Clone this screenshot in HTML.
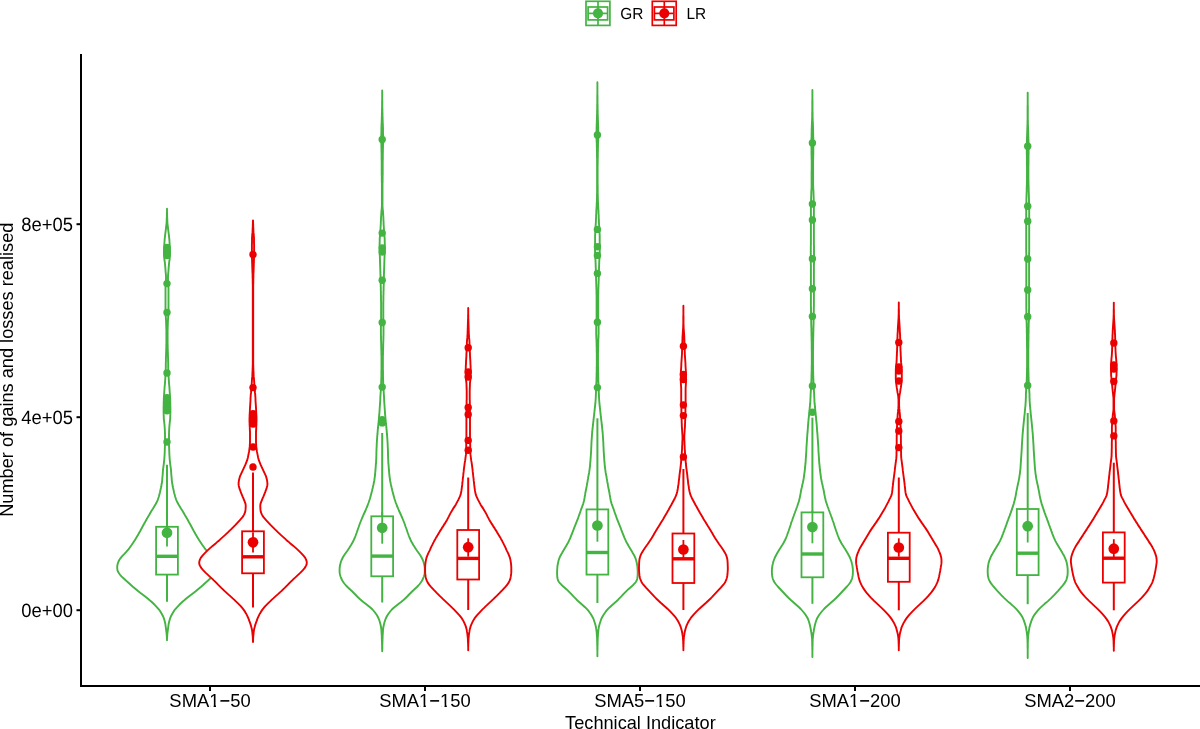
<!DOCTYPE html><html><head><meta charset="utf-8"><style>html,body{margin:0;padding:0;background:#fff;overflow:hidden;}svg{display:block;will-change:transform;}text{font-family:"Liberation Sans",sans-serif;fill:#000;}</style></head><body>
<svg width="1200" height="729" viewBox="0 0 1200 729">
<rect width="1200" height="729" fill="#fff"/>
<path d="M167.0,208.8 167.0,210.3 167.0,211.8 167.1,213.3 167.1,214.8 167.1,216.3 167.2,217.8 167.3,219.3 167.3,220.8 167.4,222.3 167.5,223.8 167.7,225.3 167.9,226.8 168.0,228.3 168.2,229.8 168.4,231.3 168.6,232.8 168.8,234.3 169.0,235.8 169.1,237.3 169.3,238.8 169.4,240.3 169.5,241.8 169.6,243.3 169.7,244.8 169.8,246.3 169.9,247.8 170.0,249.3 170.0,250.8 170.0,252.3 170.0,253.8 169.9,255.3 169.8,256.8 169.7,258.3 169.6,259.8 169.3,261.3 169.1,262.8 169.0,264.3 168.8,265.8 168.7,267.3 168.6,268.8 168.5,270.3 168.4,271.8 168.2,273.3 168.1,274.8 168.0,276.3 168.0,277.8 168.0,279.3 168.1,280.8 168.2,282.3 168.3,283.8 168.4,285.3 168.4,286.8 168.5,288.3 168.5,289.8 168.5,291.3 168.5,292.8 168.5,294.3 168.5,295.8 168.5,297.3 168.5,298.8 168.5,300.3 168.5,301.8 168.5,303.3 168.5,304.8 168.5,306.3 168.5,307.8 168.5,309.3 168.4,310.8 168.4,312.3 168.3,313.8 168.3,315.3 168.2,316.8 168.1,318.3 168.0,319.8 167.9,321.3 167.9,322.8 167.8,324.3 167.8,325.8 167.7,327.3 167.7,328.8 167.6,330.3 167.6,331.8 167.6,333.3 167.6,334.8 167.6,336.3 167.6,337.8 167.6,339.3 167.6,340.8 167.6,342.3 167.6,343.8 167.7,345.3 167.7,346.8 167.7,348.3 167.8,349.8 167.8,351.3 167.9,352.8 167.9,354.3 168.0,355.8 168.0,357.3 168.1,358.8 168.1,360.3 168.1,361.8 168.2,363.3 168.2,364.8 168.2,366.3 168.2,367.8 168.3,369.3 168.3,370.8 168.4,372.3 168.4,373.8 168.5,375.3 168.6,376.8 168.7,378.3 168.8,379.8 168.9,381.3 169.0,382.8 169.1,384.3 169.3,385.8 169.4,387.3 169.5,388.8 169.6,390.3 169.7,391.8 169.8,393.3 169.9,394.8 170.0,396.3 170.1,397.8 170.2,399.3 170.2,400.8 170.3,402.3 170.3,403.8 170.3,405.3 170.4,406.8 170.4,408.3 170.4,409.8 170.4,411.3 170.4,412.8 170.3,414.3 170.3,415.8 170.2,417.3 170.2,418.8 170.0,420.3 169.8,421.8 169.7,423.3 169.5,424.8 169.4,426.3 169.3,427.8 169.2,429.3 169.1,430.8 169.1,432.3 169.0,433.8 169.0,435.3 169.0,436.8 169.0,438.3 169.0,439.8 169.0,441.3 169.0,442.8 169.0,444.3 169.1,445.8 169.1,447.3 169.2,448.8 169.2,450.3 169.3,451.8 169.3,453.3 169.4,454.8 169.5,456.3 169.6,457.8 169.7,459.3 169.9,460.8 170.0,462.3 170.2,463.8 170.4,465.3 170.6,466.8 170.8,468.3 171.0,469.8 171.1,471.3 171.2,472.8 171.3,474.3 171.4,475.8 171.6,477.3 171.7,478.8 171.8,480.3 172.0,481.8 172.2,483.3 172.5,484.8 172.7,486.3 173.0,487.8 173.4,489.3 173.7,490.8 174.0,492.3 174.4,493.8 174.8,495.3 175.2,496.8 175.7,498.3 176.2,499.8 176.9,501.3 177.6,502.8 178.4,504.3 179.3,505.8 180.2,507.3 181.1,508.8 182.1,510.3 183.0,511.8 183.9,513.3 184.7,514.8 185.6,516.3 186.5,517.8 187.4,519.3 188.2,520.8 189.0,522.3 189.9,523.8 190.7,525.3 191.5,526.8 192.3,528.3 193.1,529.8 193.9,531.3 194.8,532.8 195.6,534.3 196.5,535.8 197.4,537.3 198.3,538.8 199.2,540.3 200.2,541.8 201.2,543.3 202.2,544.8 203.3,546.3 204.4,547.8 205.6,549.3 206.9,550.8 208.2,552.3 209.6,553.8 211.1,555.3 212.4,556.8 213.6,558.3 214.6,559.8 215.4,561.3 216.0,562.8 216.4,564.3 216.7,565.8 216.8,567.3 216.7,568.8 216.5,570.3 215.9,571.8 215.0,573.3 213.9,574.8 212.5,576.3 211.0,577.8 209.4,579.3 207.8,580.8 206.1,582.3 204.4,583.8 202.8,585.3 201.1,586.8 199.3,588.3 197.5,589.8 195.7,591.3 193.8,592.8 191.8,594.3 189.8,595.8 187.9,597.3 186.0,598.8 184.3,600.3 182.5,601.8 180.9,603.3 179.3,604.8 177.9,606.3 176.5,607.8 175.2,609.3 174.1,610.8 173.2,612.3 172.3,613.8 171.5,615.3 170.7,616.8 170.1,618.3 169.7,619.8 169.3,621.3 168.9,622.8 168.6,624.3 168.4,625.8 168.2,627.3 168.0,628.8 167.8,630.3 167.6,631.8 167.4,633.3 167.3,634.8 167.2,636.3 167.1,637.8 167.0,639.3 167.0,640.2 167.0,640.2 167.0,639.3 166.9,637.8 166.8,636.3 166.7,634.8 166.6,633.3 166.4,631.8 166.2,630.3 166.0,628.8 165.8,627.3 165.6,625.8 165.4,624.3 165.1,622.8 164.7,621.3 164.3,619.8 163.9,618.3 163.3,616.8 162.5,615.3 161.7,613.8 160.8,612.3 159.9,610.8 158.8,609.3 157.5,607.8 156.1,606.3 154.7,604.8 153.1,603.3 151.5,601.8 149.7,600.3 148.0,598.8 146.1,597.3 144.2,595.8 142.2,594.3 140.2,592.8 138.3,591.3 136.5,589.8 134.7,588.3 132.9,586.8 131.2,585.3 129.6,583.8 127.9,582.3 126.2,580.8 124.6,579.3 123.0,577.8 121.5,576.3 120.1,574.8 119.0,573.3 118.1,571.8 117.5,570.3 117.3,568.8 117.2,567.3 117.3,565.8 117.6,564.3 118.0,562.8 118.6,561.3 119.4,559.8 120.4,558.3 121.6,556.8 122.9,555.3 124.4,553.8 125.8,552.3 127.1,550.8 128.4,549.3 129.6,547.8 130.7,546.3 131.8,544.8 132.8,543.3 133.8,541.8 134.8,540.3 135.7,538.8 136.6,537.3 137.5,535.8 138.4,534.3 139.2,532.8 140.1,531.3 140.9,529.8 141.7,528.3 142.5,526.8 143.3,525.3 144.1,523.8 145.0,522.3 145.8,520.8 146.6,519.3 147.5,517.8 148.4,516.3 149.3,514.8 150.1,513.3 151.0,511.8 151.9,510.3 152.9,508.8 153.8,507.3 154.7,505.8 155.6,504.3 156.4,502.8 157.1,501.3 157.8,499.8 158.3,498.3 158.8,496.8 159.2,495.3 159.6,493.8 160.0,492.3 160.3,490.8 160.6,489.3 161.0,487.8 161.3,486.3 161.5,484.8 161.8,483.3 162.0,481.8 162.2,480.3 162.3,478.8 162.4,477.3 162.6,475.8 162.7,474.3 162.8,472.8 162.9,471.3 163.0,469.8 163.2,468.3 163.4,466.8 163.6,465.3 163.8,463.8 164.0,462.3 164.1,460.8 164.3,459.3 164.4,457.8 164.5,456.3 164.6,454.8 164.7,453.3 164.7,451.8 164.8,450.3 164.8,448.8 164.9,447.3 164.9,445.8 165.0,444.3 165.0,442.8 165.0,441.3 165.0,439.8 165.0,438.3 165.0,436.8 165.0,435.3 165.0,433.8 164.9,432.3 164.9,430.8 164.8,429.3 164.7,427.8 164.6,426.3 164.5,424.8 164.3,423.3 164.2,421.8 164.0,420.3 163.8,418.8 163.8,417.3 163.7,415.8 163.7,414.3 163.6,412.8 163.6,411.3 163.6,409.8 163.6,408.3 163.6,406.8 163.7,405.3 163.7,403.8 163.7,402.3 163.8,400.8 163.8,399.3 163.9,397.8 164.0,396.3 164.1,394.8 164.2,393.3 164.3,391.8 164.4,390.3 164.5,388.8 164.6,387.3 164.7,385.8 164.9,384.3 165.0,382.8 165.1,381.3 165.2,379.8 165.3,378.3 165.4,376.8 165.5,375.3 165.6,373.8 165.6,372.3 165.7,370.8 165.7,369.3 165.8,367.8 165.8,366.3 165.8,364.8 165.8,363.3 165.9,361.8 165.9,360.3 165.9,358.8 166.0,357.3 166.0,355.8 166.1,354.3 166.1,352.8 166.2,351.3 166.2,349.8 166.3,348.3 166.3,346.8 166.3,345.3 166.4,343.8 166.4,342.3 166.4,340.8 166.4,339.3 166.4,337.8 166.4,336.3 166.4,334.8 166.4,333.3 166.4,331.8 166.4,330.3 166.3,328.8 166.3,327.3 166.2,325.8 166.2,324.3 166.1,322.8 166.1,321.3 166.0,319.8 165.9,318.3 165.8,316.8 165.7,315.3 165.7,313.8 165.6,312.3 165.6,310.8 165.5,309.3 165.5,307.8 165.5,306.3 165.5,304.8 165.5,303.3 165.5,301.8 165.5,300.3 165.5,298.8 165.5,297.3 165.5,295.8 165.5,294.3 165.5,292.8 165.5,291.3 165.5,289.8 165.5,288.3 165.6,286.8 165.6,285.3 165.7,283.8 165.8,282.3 165.9,280.8 166.0,279.3 166.0,277.8 166.0,276.3 165.9,274.8 165.8,273.3 165.6,271.8 165.5,270.3 165.4,268.8 165.3,267.3 165.2,265.8 165.0,264.3 164.9,262.8 164.7,261.3 164.4,259.8 164.3,258.3 164.2,256.8 164.1,255.3 164.0,253.8 164.0,252.3 164.0,250.8 164.0,249.3 164.1,247.8 164.2,246.3 164.3,244.8 164.4,243.3 164.5,241.8 164.6,240.3 164.7,238.8 164.9,237.3 165.0,235.8 165.2,234.3 165.4,232.8 165.6,231.3 165.8,229.8 166.0,228.3 166.1,226.8 166.3,225.3 166.5,223.8 166.6,222.3 166.7,220.8 166.7,219.3 166.8,217.8 166.9,216.3 166.9,214.8 166.9,213.3 167.0,211.8 167.0,210.3 167.0,208.8Z" fill="#fff" stroke="#43b341" stroke-width="1.9" stroke-linejoin="round"/>
<path d="M253.0,220.4 253.1,221.9 253.1,223.4 253.2,224.9 253.2,226.4 253.3,227.9 253.4,229.4 253.4,230.9 253.5,232.4 253.7,233.9 253.8,235.4 253.9,236.9 254.0,238.4 254.0,239.9 254.0,241.4 254.0,242.9 254.1,244.4 254.1,245.9 254.1,247.4 254.1,248.9 254.1,250.4 254.1,251.9 254.1,253.4 254.1,254.9 254.1,256.4 254.0,257.9 254.0,259.4 253.9,260.9 253.9,262.4 253.8,263.9 253.8,265.4 253.7,266.9 253.7,268.4 253.6,269.9 253.6,271.4 253.5,272.9 253.4,274.4 253.4,275.9 253.4,277.4 253.3,278.9 253.3,280.4 253.3,281.9 253.3,283.4 253.2,284.9 253.2,286.4 253.2,287.9 253.2,289.4 253.2,290.9 253.2,292.4 253.2,293.9 253.2,295.4 253.2,296.9 253.2,298.4 253.2,299.9 253.2,301.4 253.2,302.9 253.2,304.4 253.2,305.9 253.2,307.4 253.2,308.9 253.2,310.4 253.2,311.9 253.2,313.4 253.2,314.9 253.2,316.4 253.2,317.9 253.2,319.4 253.2,320.9 253.2,322.4 253.2,323.9 253.2,325.4 253.2,326.9 253.2,328.4 253.2,329.9 253.2,331.4 253.2,332.9 253.2,334.4 253.2,335.9 253.2,337.4 253.2,338.9 253.2,340.4 253.2,341.9 253.2,343.4 253.2,344.9 253.2,346.4 253.2,347.9 253.2,349.4 253.2,350.9 253.2,352.4 253.2,353.9 253.2,355.4 253.2,356.9 253.2,358.4 253.2,359.9 253.2,361.4 253.2,362.9 253.2,364.4 253.3,365.9 253.3,367.4 253.4,368.9 253.4,370.4 253.5,371.9 253.6,373.4 253.6,374.9 253.7,376.4 253.9,377.9 254.0,379.4 254.1,380.9 254.2,382.4 254.3,383.9 254.4,385.4 254.5,386.9 254.6,388.4 254.8,389.9 254.9,391.4 255.0,392.9 255.2,394.4 255.3,395.9 255.4,397.4 255.5,398.9 255.5,400.4 255.6,401.9 255.7,403.4 255.8,404.9 255.9,406.4 256.0,407.9 256.1,409.4 256.1,410.9 256.2,412.4 256.3,413.9 256.4,415.4 256.4,416.9 256.5,418.4 256.5,419.9 256.5,421.4 256.4,422.9 256.4,424.4 256.3,425.9 256.2,427.4 256.2,428.9 256.1,430.4 256.0,431.9 256.0,433.4 256.0,434.9 256.0,436.4 256.0,437.9 256.0,439.4 256.0,440.9 256.0,442.4 256.1,443.9 256.2,445.4 256.3,446.9 256.5,448.4 256.7,449.9 256.9,451.4 257.2,452.9 257.5,454.4 257.8,455.9 258.1,457.4 258.5,458.9 258.9,460.4 259.5,461.9 260.1,463.4 260.7,464.9 261.4,466.4 262.1,467.9 262.8,469.4 263.5,470.9 264.2,472.4 264.9,473.9 265.6,475.4 266.2,476.9 266.6,478.4 267.0,479.9 267.2,481.4 267.4,482.9 267.4,484.4 267.2,485.9 266.8,487.4 266.4,488.9 265.8,490.4 265.3,491.9 264.7,493.4 264.1,494.9 263.5,496.4 262.8,497.9 262.2,499.4 261.6,500.9 261.0,502.4 260.5,503.9 260.3,505.4 260.3,506.9 260.4,508.4 260.5,509.9 260.7,511.4 261.2,512.9 261.8,514.4 262.6,515.9 263.7,517.4 265.0,518.9 266.3,520.4 267.7,521.9 269.1,523.4 270.5,524.9 272.0,526.4 273.5,527.9 275.0,529.4 276.6,530.9 278.1,532.4 279.7,533.9 281.3,535.4 283.0,536.9 284.7,538.4 286.3,539.9 288.1,541.4 289.8,542.9 291.6,544.4 293.4,545.9 295.1,547.4 296.8,548.9 298.4,550.4 299.9,551.9 301.4,553.4 302.8,554.9 304.1,556.4 305.2,557.9 306.0,559.4 306.5,560.9 306.8,562.4 306.7,563.9 306.2,565.4 305.4,566.9 304.4,568.4 303.1,569.9 301.7,571.4 300.2,572.9 298.6,574.4 297.0,575.9 295.4,577.4 293.7,578.9 292.2,580.4 290.6,581.9 289.1,583.4 287.7,584.9 286.2,586.4 284.7,587.9 283.1,589.4 281.6,590.9 279.9,592.4 278.3,593.9 276.6,595.4 274.9,596.9 273.3,598.4 271.6,599.9 270.1,601.4 268.5,602.9 267.0,604.4 265.5,605.9 264.2,607.4 263.0,608.9 261.9,610.4 260.9,611.9 260.0,613.4 259.2,614.9 258.5,616.4 257.8,617.9 257.2,619.4 256.7,620.9 256.1,622.4 255.6,623.9 255.1,625.4 254.7,626.9 254.3,628.4 254.0,629.9 253.8,631.4 253.6,632.9 253.5,634.4 253.3,635.9 253.2,637.4 253.1,638.9 253.1,640.4 253.0,641.9 253.0,642.0 253.0,642.0 253.0,641.9 252.9,640.4 252.9,638.9 252.8,637.4 252.7,635.9 252.5,634.4 252.4,632.9 252.2,631.4 252.0,629.9 251.7,628.4 251.3,626.9 250.9,625.4 250.4,623.9 249.9,622.4 249.3,620.9 248.8,619.4 248.2,617.9 247.5,616.4 246.8,614.9 246.0,613.4 245.1,611.9 244.1,610.4 243.0,608.9 241.8,607.4 240.5,605.9 239.0,604.4 237.5,602.9 235.9,601.4 234.4,599.9 232.7,598.4 231.1,596.9 229.4,595.4 227.7,593.9 226.1,592.4 224.4,590.9 222.9,589.4 221.3,587.9 219.8,586.4 218.3,584.9 216.9,583.4 215.4,581.9 213.8,580.4 212.3,578.9 210.6,577.4 209.0,575.9 207.4,574.4 205.8,572.9 204.3,571.4 202.9,569.9 201.6,568.4 200.6,566.9 199.8,565.4 199.3,563.9 199.2,562.4 199.5,560.9 200.0,559.4 200.8,557.9 201.9,556.4 203.2,554.9 204.6,553.4 206.1,551.9 207.6,550.4 209.2,548.9 210.9,547.4 212.6,545.9 214.4,544.4 216.2,542.9 217.9,541.4 219.7,539.9 221.3,538.4 223.0,536.9 224.7,535.4 226.3,533.9 227.9,532.4 229.4,530.9 231.0,529.4 232.5,527.9 234.0,526.4 235.5,524.9 236.9,523.4 238.3,521.9 239.7,520.4 241.0,518.9 242.3,517.4 243.4,515.9 244.2,514.4 244.8,512.9 245.3,511.4 245.5,509.9 245.6,508.4 245.7,506.9 245.7,505.4 245.5,503.9 245.0,502.4 244.4,500.9 243.8,499.4 243.2,497.9 242.5,496.4 241.9,494.9 241.3,493.4 240.7,491.9 240.2,490.4 239.6,488.9 239.2,487.4 238.8,485.9 238.6,484.4 238.6,482.9 238.8,481.4 239.0,479.9 239.4,478.4 239.8,476.9 240.4,475.4 241.1,473.9 241.8,472.4 242.5,470.9 243.2,469.4 243.9,467.9 244.6,466.4 245.3,464.9 245.9,463.4 246.5,461.9 247.1,460.4 247.5,458.9 247.9,457.4 248.2,455.9 248.5,454.4 248.8,452.9 249.1,451.4 249.3,449.9 249.5,448.4 249.7,446.9 249.8,445.4 249.9,443.9 250.0,442.4 250.0,440.9 250.0,439.4 250.0,437.9 250.0,436.4 250.0,434.9 250.0,433.4 250.0,431.9 249.9,430.4 249.8,428.9 249.8,427.4 249.7,425.9 249.6,424.4 249.6,422.9 249.5,421.4 249.5,419.9 249.5,418.4 249.6,416.9 249.6,415.4 249.7,413.9 249.8,412.4 249.9,410.9 249.9,409.4 250.0,407.9 250.1,406.4 250.2,404.9 250.3,403.4 250.4,401.9 250.5,400.4 250.5,398.9 250.6,397.4 250.7,395.9 250.8,394.4 251.0,392.9 251.1,391.4 251.2,389.9 251.4,388.4 251.5,386.9 251.6,385.4 251.7,383.9 251.8,382.4 251.9,380.9 252.0,379.4 252.1,377.9 252.3,376.4 252.4,374.9 252.4,373.4 252.5,371.9 252.6,370.4 252.6,368.9 252.7,367.4 252.7,365.9 252.8,364.4 252.8,362.9 252.8,361.4 252.8,359.9 252.8,358.4 252.8,356.9 252.8,355.4 252.8,353.9 252.8,352.4 252.8,350.9 252.8,349.4 252.8,347.9 252.8,346.4 252.8,344.9 252.8,343.4 252.8,341.9 252.8,340.4 252.8,338.9 252.8,337.4 252.8,335.9 252.8,334.4 252.8,332.9 252.8,331.4 252.8,329.9 252.8,328.4 252.8,326.9 252.8,325.4 252.8,323.9 252.8,322.4 252.8,320.9 252.8,319.4 252.8,317.9 252.8,316.4 252.8,314.9 252.8,313.4 252.8,311.9 252.8,310.4 252.8,308.9 252.8,307.4 252.8,305.9 252.8,304.4 252.8,302.9 252.8,301.4 252.8,299.9 252.8,298.4 252.8,296.9 252.8,295.4 252.8,293.9 252.8,292.4 252.8,290.9 252.8,289.4 252.8,287.9 252.8,286.4 252.8,284.9 252.7,283.4 252.7,281.9 252.7,280.4 252.7,278.9 252.6,277.4 252.6,275.9 252.6,274.4 252.5,272.9 252.4,271.4 252.4,269.9 252.3,268.4 252.3,266.9 252.2,265.4 252.2,263.9 252.1,262.4 252.1,260.9 252.0,259.4 252.0,257.9 251.9,256.4 251.9,254.9 251.9,253.4 251.9,251.9 251.9,250.4 251.9,248.9 251.9,247.4 251.9,245.9 251.9,244.4 252.0,242.9 252.0,241.4 252.0,239.9 252.0,238.4 252.1,236.9 252.2,235.4 252.3,233.9 252.5,232.4 252.6,230.9 252.6,229.4 252.7,227.9 252.8,226.4 252.8,224.9 252.9,223.4 252.9,221.9 253.0,220.4Z" fill="#fff" stroke="#ea0000" stroke-width="1.9" stroke-linejoin="round"/>
<path d="M382.2,90.5 382.2,92.0 382.2,93.5 382.2,95.0 382.2,96.5 382.2,98.0 382.2,99.5 382.3,101.0 382.3,102.5 382.3,104.0 382.3,105.5 382.3,107.0 382.4,108.5 382.4,110.0 382.4,111.5 382.5,113.0 382.5,114.5 382.5,116.0 382.6,117.5 382.6,119.0 382.7,120.5 382.7,122.0 382.8,123.5 382.9,125.0 382.9,126.5 383.0,128.0 383.0,129.5 383.0,131.0 383.0,132.5 383.1,134.0 383.1,135.5 383.1,137.0 383.1,138.5 383.1,140.0 383.1,141.5 383.1,143.0 383.0,144.5 383.0,146.0 383.0,147.5 382.9,149.0 382.9,150.5 382.9,152.0 382.8,153.5 382.8,155.0 382.8,156.5 382.8,158.0 382.8,159.5 382.7,161.0 382.7,162.5 382.7,164.0 382.7,165.5 382.7,167.0 382.7,168.5 382.7,170.0 382.7,171.5 382.7,173.0 382.7,174.5 382.6,176.0 382.6,177.5 382.6,179.0 382.6,180.5 382.6,182.0 382.5,183.5 382.5,185.0 382.5,186.5 382.5,188.0 382.5,189.5 382.5,191.0 382.5,192.5 382.5,194.0 382.5,195.5 382.5,197.0 382.5,198.5 382.5,200.0 382.5,201.5 382.5,203.0 382.5,204.5 382.5,206.0 382.6,207.5 382.7,209.0 382.8,210.5 383.0,212.0 383.1,213.5 383.2,215.0 383.3,216.5 383.4,218.0 383.4,219.5 383.5,221.0 383.6,222.5 383.6,224.0 383.7,225.5 383.8,227.0 383.9,228.5 384.0,230.0 384.1,231.5 384.2,233.0 384.3,234.5 384.4,236.0 384.6,237.5 384.7,239.0 384.7,240.5 384.7,242.0 384.8,243.5 384.8,245.0 384.8,246.5 384.8,248.0 384.8,249.5 384.8,251.0 384.7,252.5 384.7,254.0 384.6,255.5 384.5,257.0 384.5,258.5 384.4,260.0 384.4,261.5 384.3,263.0 384.3,264.5 384.2,266.0 384.2,267.5 384.1,269.0 384.1,270.5 384.0,272.0 384.0,273.5 383.9,275.0 383.9,276.5 383.9,278.0 383.8,279.5 383.8,281.0 383.7,282.5 383.7,284.0 383.7,285.5 383.6,287.0 383.6,288.5 383.6,290.0 383.5,291.5 383.5,293.0 383.5,294.5 383.4,296.0 383.4,297.5 383.4,299.0 383.4,300.5 383.3,302.0 383.3,303.5 383.3,305.0 383.3,306.5 383.3,308.0 383.3,309.5 383.3,311.0 383.3,312.5 383.3,314.0 383.3,315.5 383.3,317.0 383.3,318.5 383.3,320.0 383.4,321.5 383.4,323.0 383.5,324.5 383.5,326.0 383.5,327.5 383.5,329.0 383.5,330.5 383.5,332.0 383.5,333.5 383.5,335.0 383.4,336.5 383.4,338.0 383.4,339.5 383.3,341.0 383.3,342.5 383.2,344.0 383.2,345.5 383.2,347.0 383.1,348.5 383.1,350.0 383.0,351.5 383.0,353.0 383.0,354.5 382.9,356.0 382.9,357.5 382.9,359.0 382.9,360.5 382.9,362.0 382.9,363.5 382.9,365.0 382.9,366.5 382.9,368.0 382.9,369.5 383.0,371.0 383.0,372.5 383.0,374.0 383.0,375.5 383.0,377.0 383.1,378.5 383.1,380.0 383.2,381.5 383.2,383.0 383.3,384.5 383.4,386.0 383.4,387.5 383.5,389.0 383.6,390.5 383.7,392.0 383.8,393.5 383.9,395.0 384.0,396.5 384.1,398.0 384.1,399.5 384.2,401.0 384.3,402.5 384.4,404.0 384.5,405.5 384.6,407.0 384.7,408.5 384.8,410.0 384.9,411.5 385.0,413.0 385.1,414.5 385.3,416.0 385.4,417.5 385.5,419.0 385.6,420.5 385.8,422.0 385.9,423.5 386.1,425.0 386.3,426.5 386.4,428.0 386.6,429.5 386.7,431.0 386.8,432.5 386.9,434.0 387.1,435.5 387.2,437.0 387.3,438.5 387.4,440.0 387.5,441.5 387.6,443.0 387.7,444.5 387.7,446.0 387.8,447.5 387.9,449.0 387.9,450.5 388.0,452.0 388.0,453.5 388.0,455.0 388.1,456.5 388.1,458.0 388.2,459.5 388.3,461.0 388.3,462.5 388.5,464.0 388.6,465.5 388.7,467.0 388.8,468.5 388.9,470.0 389.1,471.5 389.2,473.0 389.3,474.5 389.5,476.0 389.7,477.5 389.9,479.0 390.1,480.5 390.4,482.0 390.7,483.5 391.0,485.0 391.4,486.5 391.7,488.0 392.1,489.5 392.4,491.0 392.8,492.5 393.2,494.0 393.6,495.5 394.0,497.0 394.4,498.5 394.9,500.0 395.4,501.5 395.9,503.0 396.5,504.5 397.0,506.0 397.7,507.5 398.3,509.0 398.9,510.5 399.6,512.0 400.3,513.5 401.0,515.0 401.6,516.5 402.3,518.0 402.9,519.5 403.5,521.0 404.1,522.5 404.7,524.0 405.2,525.5 405.7,527.0 406.3,528.5 406.8,530.0 407.3,531.5 407.8,533.0 408.4,534.5 408.9,536.0 409.5,537.5 410.2,539.0 410.8,540.5 411.6,542.0 412.5,543.5 413.3,545.0 414.3,546.5 415.2,548.0 416.2,549.5 417.2,551.0 418.3,552.5 419.4,554.0 420.4,555.5 421.3,557.0 422.1,558.5 422.8,560.0 423.4,561.5 423.8,563.0 424.2,564.5 424.5,566.0 424.7,567.5 424.8,569.0 424.8,570.5 424.8,572.0 424.6,573.5 424.3,575.0 423.9,576.5 423.3,578.0 422.6,579.5 421.8,581.0 420.8,582.5 419.7,584.0 418.4,585.5 416.9,587.0 415.3,588.5 413.7,590.0 412.1,591.5 410.6,593.0 409.1,594.5 407.7,596.0 406.2,597.5 404.6,599.0 402.9,600.5 401.1,602.0 399.1,603.5 397.2,605.0 395.3,606.5 393.5,608.0 391.9,609.5 390.6,611.0 389.4,612.5 388.3,614.0 387.3,615.5 386.5,617.0 385.8,618.5 385.2,620.0 384.7,621.5 384.3,623.0 383.9,624.5 383.6,626.0 383.3,627.5 383.1,629.0 383.0,630.5 382.9,632.0 382.8,633.5 382.7,635.0 382.6,636.5 382.6,638.0 382.5,639.5 382.5,641.0 382.4,642.5 382.4,644.0 382.3,645.5 382.3,647.0 382.3,648.5 382.2,650.0 382.2,651.3 382.2,651.3 382.2,650.0 382.1,648.5 382.1,647.0 382.1,645.5 382.0,644.0 382.0,642.5 381.9,641.0 381.9,639.5 381.8,638.0 381.8,636.5 381.7,635.0 381.6,633.5 381.5,632.0 381.4,630.5 381.3,629.0 381.1,627.5 380.8,626.0 380.5,624.5 380.1,623.0 379.7,621.5 379.2,620.0 378.6,618.5 377.9,617.0 377.1,615.5 376.1,614.0 375.0,612.5 373.8,611.0 372.5,609.5 370.9,608.0 369.1,606.5 367.2,605.0 365.3,603.5 363.3,602.0 361.5,600.5 359.8,599.0 358.2,597.5 356.7,596.0 355.3,594.5 353.8,593.0 352.3,591.5 350.7,590.0 349.1,588.5 347.5,587.0 346.0,585.5 344.7,584.0 343.6,582.5 342.6,581.0 341.8,579.5 341.1,578.0 340.5,576.5 340.1,575.0 339.8,573.5 339.6,572.0 339.6,570.5 339.6,569.0 339.7,567.5 339.9,566.0 340.2,564.5 340.6,563.0 341.0,561.5 341.6,560.0 342.3,558.5 343.1,557.0 344.0,555.5 345.0,554.0 346.1,552.5 347.2,551.0 348.2,549.5 349.2,548.0 350.1,546.5 351.1,545.0 351.9,543.5 352.8,542.0 353.6,540.5 354.2,539.0 354.9,537.5 355.5,536.0 356.0,534.5 356.6,533.0 357.1,531.5 357.6,530.0 358.1,528.5 358.7,527.0 359.2,525.5 359.7,524.0 360.3,522.5 360.9,521.0 361.5,519.5 362.1,518.0 362.8,516.5 363.4,515.0 364.1,513.5 364.8,512.0 365.5,510.5 366.1,509.0 366.7,507.5 367.4,506.0 367.9,504.5 368.5,503.0 369.0,501.5 369.5,500.0 370.0,498.5 370.4,497.0 370.8,495.5 371.2,494.0 371.6,492.5 372.0,491.0 372.3,489.5 372.7,488.0 373.0,486.5 373.4,485.0 373.7,483.5 374.0,482.0 374.3,480.5 374.5,479.0 374.7,477.5 374.9,476.0 375.1,474.5 375.2,473.0 375.3,471.5 375.5,470.0 375.6,468.5 375.7,467.0 375.8,465.5 375.9,464.0 376.1,462.5 376.1,461.0 376.2,459.5 376.3,458.0 376.3,456.5 376.4,455.0 376.4,453.5 376.4,452.0 376.5,450.5 376.5,449.0 376.6,447.5 376.7,446.0 376.7,444.5 376.8,443.0 376.9,441.5 377.0,440.0 377.1,438.5 377.2,437.0 377.3,435.5 377.5,434.0 377.6,432.5 377.7,431.0 377.8,429.5 378.0,428.0 378.1,426.5 378.3,425.0 378.5,423.5 378.6,422.0 378.8,420.5 378.9,419.0 379.0,417.5 379.1,416.0 379.3,414.5 379.4,413.0 379.5,411.5 379.6,410.0 379.7,408.5 379.8,407.0 379.9,405.5 380.0,404.0 380.1,402.5 380.2,401.0 380.3,399.5 380.3,398.0 380.4,396.5 380.5,395.0 380.6,393.5 380.7,392.0 380.8,390.5 380.9,389.0 381.0,387.5 381.0,386.0 381.1,384.5 381.2,383.0 381.2,381.5 381.3,380.0 381.3,378.5 381.4,377.0 381.4,375.5 381.4,374.0 381.4,372.5 381.4,371.0 381.5,369.5 381.5,368.0 381.5,366.5 381.5,365.0 381.5,363.5 381.5,362.0 381.5,360.5 381.5,359.0 381.5,357.5 381.5,356.0 381.4,354.5 381.4,353.0 381.4,351.5 381.3,350.0 381.3,348.5 381.2,347.0 381.2,345.5 381.2,344.0 381.1,342.5 381.1,341.0 381.0,339.5 381.0,338.0 381.0,336.5 380.9,335.0 380.9,333.5 380.9,332.0 380.9,330.5 380.9,329.0 380.9,327.5 380.9,326.0 380.9,324.5 381.0,323.0 381.0,321.5 381.1,320.0 381.1,318.5 381.1,317.0 381.1,315.5 381.1,314.0 381.1,312.5 381.1,311.0 381.1,309.5 381.1,308.0 381.1,306.5 381.1,305.0 381.1,303.5 381.1,302.0 381.0,300.5 381.0,299.0 381.0,297.5 381.0,296.0 380.9,294.5 380.9,293.0 380.9,291.5 380.8,290.0 380.8,288.5 380.8,287.0 380.7,285.5 380.7,284.0 380.7,282.5 380.6,281.0 380.6,279.5 380.5,278.0 380.5,276.5 380.5,275.0 380.4,273.5 380.4,272.0 380.3,270.5 380.3,269.0 380.2,267.5 380.2,266.0 380.1,264.5 380.1,263.0 380.0,261.5 380.0,260.0 379.9,258.5 379.9,257.0 379.8,255.5 379.7,254.0 379.7,252.5 379.6,251.0 379.6,249.5 379.6,248.0 379.6,246.5 379.6,245.0 379.6,243.5 379.7,242.0 379.7,240.5 379.7,239.0 379.8,237.5 380.0,236.0 380.1,234.5 380.2,233.0 380.3,231.5 380.4,230.0 380.5,228.5 380.6,227.0 380.7,225.5 380.8,224.0 380.8,222.5 380.9,221.0 381.0,219.5 381.0,218.0 381.1,216.5 381.2,215.0 381.3,213.5 381.4,212.0 381.6,210.5 381.7,209.0 381.8,207.5 381.9,206.0 381.9,204.5 381.9,203.0 381.9,201.5 381.9,200.0 381.9,198.5 381.9,197.0 381.9,195.5 381.9,194.0 381.9,192.5 381.9,191.0 381.9,189.5 381.9,188.0 381.9,186.5 381.9,185.0 381.9,183.5 381.8,182.0 381.8,180.5 381.8,179.0 381.8,177.5 381.8,176.0 381.7,174.5 381.7,173.0 381.7,171.5 381.7,170.0 381.7,168.5 381.7,167.0 381.7,165.5 381.7,164.0 381.7,162.5 381.7,161.0 381.6,159.5 381.6,158.0 381.6,156.5 381.6,155.0 381.6,153.5 381.5,152.0 381.5,150.5 381.5,149.0 381.4,147.5 381.4,146.0 381.4,144.5 381.3,143.0 381.3,141.5 381.3,140.0 381.3,138.5 381.3,137.0 381.3,135.5 381.3,134.0 381.4,132.5 381.4,131.0 381.4,129.5 381.4,128.0 381.5,126.5 381.5,125.0 381.6,123.5 381.7,122.0 381.7,120.5 381.8,119.0 381.8,117.5 381.9,116.0 381.9,114.5 381.9,113.0 382.0,111.5 382.0,110.0 382.0,108.5 382.1,107.0 382.1,105.5 382.1,104.0 382.1,102.5 382.1,101.0 382.2,99.5 382.2,98.0 382.2,96.5 382.2,95.0 382.2,93.5 382.2,92.0 382.2,90.5Z" fill="#fff" stroke="#43b341" stroke-width="1.9" stroke-linejoin="round"/>
<path d="M468.2,307.9 468.2,309.4 468.2,310.9 468.2,312.4 468.2,313.9 468.3,315.4 468.3,316.9 468.3,318.4 468.4,319.9 468.4,321.4 468.5,322.9 468.5,324.4 468.6,325.9 468.6,327.4 468.7,328.9 468.7,330.4 468.8,331.9 468.8,333.4 468.9,334.9 469.0,336.4 469.1,337.9 469.3,339.4 469.4,340.9 469.5,342.4 469.5,343.9 469.6,345.4 469.7,346.9 469.7,348.4 469.8,349.9 469.8,351.4 469.9,352.9 470.0,354.4 470.0,355.9 470.1,357.4 470.2,358.9 470.3,360.4 470.4,361.9 470.4,363.4 470.5,364.9 470.6,366.4 470.6,367.9 470.7,369.4 470.7,370.9 470.7,372.4 470.7,373.9 470.6,375.4 470.6,376.9 470.5,378.4 470.4,379.9 470.2,381.4 470.0,382.9 469.9,384.4 469.9,385.9 469.8,387.4 469.8,388.9 469.7,390.4 469.7,391.9 469.7,393.4 469.7,394.9 469.7,396.4 469.7,397.9 469.7,399.4 469.8,400.9 469.8,402.4 469.8,403.9 469.8,405.4 469.9,406.9 469.9,408.4 469.9,409.9 469.9,411.4 469.9,412.9 469.9,414.4 470.0,415.9 470.0,417.4 470.0,418.9 470.0,420.4 470.0,421.9 470.0,423.4 470.0,424.9 470.0,426.4 470.0,427.9 470.0,429.4 470.0,430.9 470.0,432.4 470.0,433.9 470.0,435.4 470.0,436.9 470.1,438.4 470.1,439.9 470.1,441.4 470.1,442.9 470.2,444.4 470.2,445.9 470.2,447.4 470.3,448.9 470.3,450.4 470.4,451.9 470.4,453.4 470.5,454.9 470.7,456.4 470.9,457.9 471.1,459.4 471.3,460.9 471.6,462.4 471.8,463.9 472.0,465.4 472.2,466.9 472.4,468.4 472.6,469.9 472.7,471.4 472.9,472.9 473.1,474.4 473.2,475.9 473.4,477.4 473.6,478.9 473.7,480.4 473.9,481.9 474.1,483.4 474.2,484.9 474.4,486.4 474.6,487.9 474.8,489.4 475.0,490.9 475.3,492.4 475.6,493.9 476.1,495.4 476.7,496.9 477.4,498.4 478.1,499.9 478.9,501.4 479.7,502.9 480.5,504.4 481.4,505.9 482.4,507.4 483.4,508.9 484.3,510.4 485.2,511.9 486.0,513.4 486.8,514.9 487.5,516.4 488.3,517.9 489.1,519.4 490.0,520.9 490.9,522.4 491.8,523.9 492.8,525.4 493.7,526.9 494.7,528.4 495.6,529.9 496.6,531.4 497.5,532.9 498.4,534.4 499.3,535.9 500.2,537.4 501.0,538.9 501.9,540.4 502.6,541.9 503.4,543.4 504.1,544.9 504.9,546.4 505.6,547.9 506.2,549.4 506.9,550.9 507.7,552.4 508.4,553.9 509.0,555.4 509.6,556.9 510.1,558.4 510.4,559.9 510.7,561.4 510.9,562.9 511.1,564.4 511.2,565.9 511.3,567.4 511.3,568.9 511.3,570.4 511.3,571.9 511.2,573.4 511.0,574.9 510.8,576.4 510.5,577.9 510.1,579.4 509.5,580.9 508.8,582.4 507.8,583.9 506.7,585.4 505.4,586.9 504.0,588.4 502.6,589.9 501.1,591.4 499.7,592.9 498.2,594.4 496.7,595.9 495.1,597.4 493.6,598.9 492.0,600.4 490.4,601.9 488.8,603.4 487.2,604.9 485.6,606.4 484.1,607.9 482.5,609.4 481.1,610.9 479.7,612.4 478.3,613.9 476.9,615.4 475.7,616.9 474.5,618.4 473.6,619.9 472.8,621.4 472.1,622.9 471.4,624.4 470.8,625.9 470.3,627.4 469.9,628.9 469.6,630.4 469.4,631.9 469.1,633.4 468.9,634.9 468.8,636.4 468.6,637.9 468.5,639.4 468.5,640.9 468.4,642.4 468.3,643.9 468.3,645.4 468.2,646.9 468.2,648.4 468.2,649.9 468.2,650.3 468.2,650.3 468.2,649.9 468.2,648.4 468.2,646.9 468.1,645.4 468.1,643.9 468.0,642.4 467.9,640.9 467.9,639.4 467.8,637.9 467.6,636.4 467.5,634.9 467.3,633.4 467.0,631.9 466.8,630.4 466.5,628.9 466.1,627.4 465.6,625.9 465.0,624.4 464.3,622.9 463.6,621.4 462.8,619.9 461.9,618.4 460.7,616.9 459.5,615.4 458.1,613.9 456.7,612.4 455.3,610.9 453.9,609.4 452.3,607.9 450.8,606.4 449.2,604.9 447.6,603.4 446.0,601.9 444.4,600.4 442.8,598.9 441.3,597.4 439.7,595.9 438.2,594.4 436.7,592.9 435.3,591.4 433.8,589.9 432.4,588.4 431.0,586.9 429.7,585.4 428.6,583.9 427.6,582.4 426.9,580.9 426.3,579.4 425.9,577.9 425.6,576.4 425.4,574.9 425.2,573.4 425.1,571.9 425.1,570.4 425.1,568.9 425.1,567.4 425.2,565.9 425.3,564.4 425.5,562.9 425.7,561.4 426.0,559.9 426.3,558.4 426.8,556.9 427.4,555.4 428.0,553.9 428.7,552.4 429.5,550.9 430.2,549.4 430.8,547.9 431.5,546.4 432.3,544.9 433.0,543.4 433.8,541.9 434.5,540.4 435.4,538.9 436.2,537.4 437.1,535.9 438.0,534.4 438.9,532.9 439.8,531.4 440.8,529.9 441.7,528.4 442.7,526.9 443.6,525.4 444.6,523.9 445.5,522.4 446.4,520.9 447.3,519.4 448.1,517.9 448.9,516.4 449.6,514.9 450.4,513.4 451.2,511.9 452.1,510.4 453.0,508.9 454.0,507.4 455.0,505.9 455.9,504.4 456.7,502.9 457.5,501.4 458.3,499.9 459.0,498.4 459.7,496.9 460.3,495.4 460.8,493.9 461.1,492.4 461.4,490.9 461.6,489.4 461.8,487.9 462.0,486.4 462.2,484.9 462.3,483.4 462.5,481.9 462.7,480.4 462.8,478.9 463.0,477.4 463.2,475.9 463.3,474.4 463.5,472.9 463.7,471.4 463.8,469.9 464.0,468.4 464.2,466.9 464.4,465.4 464.6,463.9 464.8,462.4 465.1,460.9 465.3,459.4 465.5,457.9 465.7,456.4 465.9,454.9 466.0,453.4 466.0,451.9 466.1,450.4 466.1,448.9 466.2,447.4 466.2,445.9 466.2,444.4 466.3,442.9 466.3,441.4 466.3,439.9 466.3,438.4 466.4,436.9 466.4,435.4 466.4,433.9 466.4,432.4 466.4,430.9 466.4,429.4 466.4,427.9 466.4,426.4 466.4,424.9 466.4,423.4 466.4,421.9 466.4,420.4 466.4,418.9 466.4,417.4 466.4,415.9 466.5,414.4 466.5,412.9 466.5,411.4 466.5,409.9 466.5,408.4 466.5,406.9 466.6,405.4 466.6,403.9 466.6,402.4 466.6,400.9 466.7,399.4 466.7,397.9 466.7,396.4 466.7,394.9 466.7,393.4 466.7,391.9 466.7,390.4 466.6,388.9 466.6,387.4 466.5,385.9 466.5,384.4 466.4,382.9 466.2,381.4 466.0,379.9 465.9,378.4 465.8,376.9 465.8,375.4 465.7,373.9 465.7,372.4 465.7,370.9 465.7,369.4 465.8,367.9 465.8,366.4 465.9,364.9 466.0,363.4 466.0,361.9 466.1,360.4 466.2,358.9 466.3,357.4 466.4,355.9 466.4,354.4 466.5,352.9 466.6,351.4 466.6,349.9 466.7,348.4 466.7,346.9 466.8,345.4 466.9,343.9 466.9,342.4 467.0,340.9 467.1,339.4 467.3,337.9 467.4,336.4 467.5,334.9 467.6,333.4 467.6,331.9 467.7,330.4 467.7,328.9 467.8,327.4 467.8,325.9 467.9,324.4 467.9,322.9 468.0,321.4 468.0,319.9 468.1,318.4 468.1,316.9 468.1,315.4 468.2,313.9 468.2,312.4 468.2,310.9 468.2,309.4 468.2,307.9Z" fill="#fff" stroke="#ea0000" stroke-width="1.9" stroke-linejoin="round"/>
<path d="M597.4,82.2 597.4,83.7 597.4,85.2 597.4,86.7 597.4,88.2 597.4,89.7 597.4,91.2 597.4,92.7 597.4,94.2 597.5,95.7 597.5,97.2 597.5,98.7 597.5,100.2 597.5,101.7 597.5,103.2 597.6,104.7 597.6,106.2 597.6,107.7 597.6,109.2 597.7,110.7 597.7,112.2 597.7,113.7 597.8,115.2 597.8,116.7 597.9,118.2 597.9,119.7 598.0,121.2 598.0,122.7 598.1,124.2 598.1,125.7 598.2,127.2 598.2,128.7 598.2,130.2 598.3,131.7 598.3,133.2 598.3,134.7 598.3,136.2 598.3,137.7 598.2,139.2 598.2,140.7 598.1,142.2 598.0,143.7 598.0,145.2 598.0,146.7 597.9,148.2 597.9,149.7 597.9,151.2 597.8,152.7 597.8,154.2 597.8,155.7 597.8,157.2 597.7,158.7 597.7,160.2 597.7,161.7 597.7,163.2 597.7,164.7 597.6,166.2 597.6,167.7 597.6,169.2 597.6,170.7 597.6,172.2 597.6,173.7 597.6,175.2 597.6,176.7 597.6,178.2 597.6,179.7 597.6,181.2 597.6,182.7 597.6,184.2 597.7,185.7 597.7,187.2 597.7,188.7 597.7,190.2 597.7,191.7 597.7,193.2 597.8,194.7 597.8,196.2 597.8,197.7 597.9,199.2 597.9,200.7 598.0,202.2 598.1,203.7 598.1,205.2 598.2,206.7 598.3,208.2 598.4,209.7 598.5,211.2 598.5,212.7 598.6,214.2 598.7,215.7 598.7,217.2 598.8,218.7 598.9,220.2 598.9,221.7 599.0,223.2 599.1,224.7 599.2,226.2 599.2,227.7 599.3,229.2 599.4,230.7 599.5,232.2 599.6,233.7 599.7,235.2 599.7,236.7 599.7,238.2 599.7,239.7 599.7,241.2 599.7,242.7 599.8,244.2 599.8,245.7 599.8,247.2 599.8,248.7 599.8,250.2 599.7,251.7 599.7,253.2 599.6,254.7 599.6,256.2 599.5,257.7 599.4,259.2 599.3,260.7 599.2,262.2 599.2,263.7 599.1,265.2 599.1,266.7 599.0,268.2 599.0,269.7 598.9,271.2 598.9,272.7 598.9,274.2 598.8,275.7 598.8,277.2 598.7,278.7 598.7,280.2 598.6,281.7 598.6,283.2 598.5,284.7 598.5,286.2 598.4,287.7 598.4,289.2 598.3,290.7 598.3,292.2 598.3,293.7 598.2,295.2 598.2,296.7 598.2,298.2 598.2,299.7 598.2,301.2 598.2,302.7 598.2,304.2 598.2,305.7 598.2,307.2 598.2,308.7 598.2,310.2 598.2,311.7 598.2,313.2 598.2,314.7 598.2,316.2 598.2,317.7 598.3,319.2 598.4,320.7 598.4,322.2 598.5,323.7 598.5,325.2 598.6,326.7 598.6,328.2 598.6,329.7 598.6,331.2 598.6,332.7 598.6,334.2 598.5,335.7 598.5,337.2 598.4,338.7 598.3,340.2 598.3,341.7 598.2,343.2 598.2,344.7 598.2,346.2 598.1,347.7 598.1,349.2 598.1,350.7 598.1,352.2 598.0,353.7 598.0,355.2 598.0,356.7 598.0,358.2 598.0,359.7 598.0,361.2 598.0,362.7 598.0,364.2 598.0,365.7 598.1,367.2 598.1,368.7 598.1,370.2 598.1,371.7 598.2,373.2 598.2,374.7 598.2,376.2 598.3,377.7 598.3,379.2 598.3,380.7 598.4,382.2 598.5,383.7 598.5,385.2 598.6,386.7 598.6,388.2 598.7,389.7 598.8,391.2 598.8,392.7 598.9,394.2 599.0,395.7 599.0,397.2 599.1,398.7 599.2,400.2 599.3,401.7 599.4,403.2 599.6,404.7 599.7,406.2 599.9,407.7 600.1,409.2 600.2,410.7 600.4,412.2 600.5,413.7 600.7,415.2 600.9,416.7 601.1,418.2 601.2,419.7 601.4,421.2 601.6,422.7 601.7,424.2 601.9,425.7 602.1,427.2 602.2,428.7 602.4,430.2 602.5,431.7 602.7,433.2 602.8,434.7 602.9,436.2 603.0,437.7 603.1,439.2 603.2,440.7 603.3,442.2 603.4,443.7 603.4,445.2 603.5,446.7 603.6,448.2 603.6,449.7 603.7,451.2 603.8,452.7 603.9,454.2 604.0,455.7 604.1,457.2 604.2,458.7 604.3,460.2 604.4,461.7 604.6,463.2 604.7,464.7 604.8,466.2 605.0,467.7 605.2,469.2 605.4,470.7 605.6,472.2 605.9,473.7 606.2,475.2 606.5,476.7 606.7,478.2 607.0,479.7 607.2,481.2 607.5,482.7 607.8,484.2 608.0,485.7 608.3,487.2 608.6,488.7 608.9,490.2 609.2,491.7 609.5,493.2 609.7,494.7 610.0,496.2 610.2,497.7 610.5,499.2 610.8,500.7 611.2,502.2 611.6,503.7 612.1,505.2 612.7,506.7 613.2,508.2 613.8,509.7 614.3,511.2 614.8,512.7 615.3,514.2 615.9,515.7 616.4,517.2 616.9,518.7 617.5,520.2 618.1,521.7 618.7,523.2 619.3,524.7 619.9,526.2 620.5,527.7 621.1,529.2 621.6,530.7 622.2,532.2 622.8,533.7 623.4,535.2 624.0,536.7 624.6,538.2 625.3,539.7 626.0,541.2 626.8,542.7 627.7,544.2 628.5,545.7 629.4,547.2 630.3,548.7 631.2,550.2 632.1,551.7 632.9,553.2 633.8,554.7 634.6,556.2 635.2,557.7 635.8,559.2 636.3,560.7 636.6,562.2 636.9,563.7 637.2,565.2 637.4,566.7 637.5,568.2 637.6,569.7 637.7,571.2 637.7,572.7 637.7,574.2 637.6,575.7 637.5,577.2 637.2,578.7 636.8,580.2 636.0,581.7 634.9,583.2 633.4,584.7 631.8,586.2 630.1,587.7 628.4,589.2 626.9,590.7 625.4,592.2 623.9,593.7 622.5,595.2 621.1,596.7 619.6,598.2 618.1,599.7 616.5,601.2 614.8,602.7 613.1,604.2 611.4,605.7 609.8,607.2 608.3,608.7 606.9,610.2 605.7,611.7 604.6,613.2 603.6,614.7 602.7,616.2 601.9,617.7 601.2,619.2 600.7,620.7 600.2,622.2 599.7,623.7 599.3,625.2 598.9,626.7 598.7,628.2 598.4,629.7 598.3,631.2 598.1,632.7 598.0,634.2 597.9,635.7 597.8,637.2 597.7,638.7 597.7,640.2 597.6,641.7 597.6,643.2 597.6,644.7 597.5,646.2 597.5,647.7 597.5,649.2 597.4,650.7 597.4,652.2 597.4,653.7 597.4,655.2 597.4,656.3 597.4,656.3 597.4,655.2 597.4,653.7 597.4,652.2 597.4,650.7 597.3,649.2 597.3,647.7 597.3,646.2 597.2,644.7 597.2,643.2 597.2,641.7 597.1,640.2 597.1,638.7 597.0,637.2 596.9,635.7 596.8,634.2 596.7,632.7 596.5,631.2 596.4,629.7 596.1,628.2 595.9,626.7 595.5,625.2 595.1,623.7 594.6,622.2 594.1,620.7 593.6,619.2 592.9,617.7 592.1,616.2 591.2,614.7 590.2,613.2 589.1,611.7 587.9,610.2 586.5,608.7 585.0,607.2 583.4,605.7 581.7,604.2 580.0,602.7 578.3,601.2 576.7,599.7 575.2,598.2 573.7,596.7 572.3,595.2 570.9,593.7 569.4,592.2 567.9,590.7 566.4,589.2 564.7,587.7 563.0,586.2 561.4,584.7 559.9,583.2 558.8,581.7 558.0,580.2 557.6,578.7 557.3,577.2 557.2,575.7 557.1,574.2 557.1,572.7 557.1,571.2 557.2,569.7 557.3,568.2 557.4,566.7 557.6,565.2 557.9,563.7 558.2,562.2 558.5,560.7 559.0,559.2 559.6,557.7 560.2,556.2 561.0,554.7 561.9,553.2 562.7,551.7 563.6,550.2 564.5,548.7 565.4,547.2 566.3,545.7 567.1,544.2 568.0,542.7 568.8,541.2 569.5,539.7 570.2,538.2 570.8,536.7 571.4,535.2 572.0,533.7 572.6,532.2 573.2,530.7 573.7,529.2 574.3,527.7 574.9,526.2 575.5,524.7 576.1,523.2 576.7,521.7 577.3,520.2 577.9,518.7 578.4,517.2 578.9,515.7 579.5,514.2 580.0,512.7 580.5,511.2 581.0,509.7 581.6,508.2 582.1,506.7 582.7,505.2 583.2,503.7 583.6,502.2 584.0,500.7 584.3,499.2 584.6,497.7 584.8,496.2 585.1,494.7 585.3,493.2 585.6,491.7 585.9,490.2 586.2,488.7 586.5,487.2 586.8,485.7 587.0,484.2 587.3,482.7 587.6,481.2 587.8,479.7 588.1,478.2 588.3,476.7 588.6,475.2 588.9,473.7 589.2,472.2 589.4,470.7 589.6,469.2 589.8,467.7 590.0,466.2 590.1,464.7 590.2,463.2 590.4,461.7 590.5,460.2 590.6,458.7 590.7,457.2 590.8,455.7 590.9,454.2 591.0,452.7 591.1,451.2 591.2,449.7 591.2,448.2 591.3,446.7 591.4,445.2 591.4,443.7 591.5,442.2 591.6,440.7 591.7,439.2 591.8,437.7 591.9,436.2 592.0,434.7 592.1,433.2 592.3,431.7 592.4,430.2 592.6,428.7 592.7,427.2 592.9,425.7 593.1,424.2 593.2,422.7 593.4,421.2 593.6,419.7 593.7,418.2 593.9,416.7 594.1,415.2 594.3,413.7 594.4,412.2 594.6,410.7 594.7,409.2 594.9,407.7 595.1,406.2 595.2,404.7 595.4,403.2 595.5,401.7 595.6,400.2 595.7,398.7 595.8,397.2 595.8,395.7 595.9,394.2 596.0,392.7 596.0,391.2 596.1,389.7 596.2,388.2 596.2,386.7 596.3,385.2 596.3,383.7 596.4,382.2 596.5,380.7 596.5,379.2 596.5,377.7 596.6,376.2 596.6,374.7 596.6,373.2 596.7,371.7 596.7,370.2 596.7,368.7 596.7,367.2 596.8,365.7 596.8,364.2 596.8,362.7 596.8,361.2 596.8,359.7 596.8,358.2 596.8,356.7 596.8,355.2 596.8,353.7 596.7,352.2 596.7,350.7 596.7,349.2 596.7,347.7 596.6,346.2 596.6,344.7 596.6,343.2 596.5,341.7 596.5,340.2 596.4,338.7 596.3,337.2 596.3,335.7 596.2,334.2 596.2,332.7 596.2,331.2 596.2,329.7 596.2,328.2 596.2,326.7 596.3,325.2 596.3,323.7 596.4,322.2 596.4,320.7 596.5,319.2 596.6,317.7 596.6,316.2 596.6,314.7 596.6,313.2 596.6,311.7 596.6,310.2 596.6,308.7 596.6,307.2 596.6,305.7 596.6,304.2 596.6,302.7 596.6,301.2 596.6,299.7 596.6,298.2 596.6,296.7 596.6,295.2 596.5,293.7 596.5,292.2 596.5,290.7 596.4,289.2 596.4,287.7 596.3,286.2 596.3,284.7 596.2,283.2 596.2,281.7 596.1,280.2 596.1,278.7 596.0,277.2 596.0,275.7 595.9,274.2 595.9,272.7 595.9,271.2 595.8,269.7 595.8,268.2 595.7,266.7 595.7,265.2 595.6,263.7 595.6,262.2 595.5,260.7 595.4,259.2 595.3,257.7 595.2,256.2 595.2,254.7 595.1,253.2 595.1,251.7 595.0,250.2 595.0,248.7 595.0,247.2 595.0,245.7 595.0,244.2 595.1,242.7 595.1,241.2 595.1,239.7 595.1,238.2 595.1,236.7 595.1,235.2 595.2,233.7 595.3,232.2 595.4,230.7 595.5,229.2 595.6,227.7 595.6,226.2 595.7,224.7 595.8,223.2 595.9,221.7 595.9,220.2 596.0,218.7 596.1,217.2 596.1,215.7 596.2,214.2 596.3,212.7 596.3,211.2 596.4,209.7 596.5,208.2 596.6,206.7 596.7,205.2 596.7,203.7 596.8,202.2 596.9,200.7 596.9,199.2 597.0,197.7 597.0,196.2 597.0,194.7 597.1,193.2 597.1,191.7 597.1,190.2 597.1,188.7 597.1,187.2 597.1,185.7 597.1,184.2 597.1,182.7 597.1,181.2 597.1,179.7 597.1,178.2 597.1,176.7 597.1,175.2 597.1,173.7 597.1,172.2 597.1,170.7 597.1,169.2 597.1,167.7 597.1,166.2 597.1,164.7 597.1,163.2 597.1,161.7 597.1,160.2 597.1,158.7 597.0,157.2 597.0,155.7 597.0,154.2 597.0,152.7 596.9,151.2 596.9,149.7 596.9,148.2 596.8,146.7 596.8,145.2 596.8,143.7 596.7,142.2 596.6,140.7 596.6,139.2 596.5,137.7 596.5,136.2 596.5,134.7 596.5,133.2 596.5,131.7 596.6,130.2 596.6,128.7 596.6,127.2 596.7,125.7 596.7,124.2 596.8,122.7 596.8,121.2 596.9,119.7 596.9,118.2 597.0,116.7 597.0,115.2 597.1,113.7 597.1,112.2 597.1,110.7 597.2,109.2 597.2,107.7 597.2,106.2 597.2,104.7 597.3,103.2 597.3,101.7 597.3,100.2 597.3,98.7 597.3,97.2 597.3,95.7 597.4,94.2 597.4,92.7 597.4,91.2 597.4,89.7 597.4,88.2 597.4,86.7 597.4,85.2 597.4,83.7 597.4,82.2Z" fill="#fff" stroke="#43b341" stroke-width="1.9" stroke-linejoin="round"/>
<path d="M683.4,305.7 683.4,307.2 683.4,308.7 683.4,310.2 683.4,311.7 683.4,313.2 683.4,314.7 683.5,316.2 683.5,317.7 683.5,319.2 683.5,320.7 683.5,322.2 683.5,323.7 683.6,325.2 683.6,326.7 683.7,328.2 683.8,329.7 683.9,331.2 684.0,332.7 684.1,334.2 684.2,335.7 684.3,337.2 684.3,338.7 684.4,340.2 684.4,341.7 684.5,343.2 684.6,344.7 684.6,346.2 684.7,347.7 684.7,349.2 684.7,350.7 684.8,352.2 684.8,353.7 684.9,355.2 685.0,356.7 685.1,358.2 685.2,359.7 685.3,361.2 685.4,362.7 685.5,364.2 685.5,365.7 685.6,367.2 685.7,368.7 685.8,370.2 685.9,371.7 686.0,373.2 686.0,374.7 686.0,376.2 686.0,377.7 686.0,379.2 686.0,380.7 686.0,382.2 685.9,383.7 685.8,385.2 685.7,386.7 685.6,388.2 685.6,389.7 685.6,391.2 685.6,392.7 685.6,394.2 685.6,395.7 685.6,397.2 685.6,398.7 685.6,400.2 685.6,401.7 685.5,403.2 685.5,404.7 685.5,406.2 685.4,407.7 685.4,409.2 685.4,410.7 685.4,412.2 685.3,413.7 685.3,415.2 685.3,416.7 685.2,418.2 685.2,419.7 685.1,421.2 685.1,422.7 685.0,424.2 685.0,425.7 684.9,427.2 684.8,428.7 684.7,430.2 684.6,431.7 684.5,433.2 684.4,434.7 684.3,436.2 684.3,437.7 684.3,439.2 684.4,440.7 684.5,442.2 684.5,443.7 684.6,445.2 684.7,446.7 684.7,448.2 684.8,449.7 684.9,451.2 685.0,452.7 685.1,454.2 685.3,455.7 685.4,457.2 685.5,458.7 685.6,460.2 685.7,461.7 685.8,463.2 686.0,464.7 686.1,466.2 686.3,467.7 686.5,469.2 686.7,470.7 686.9,472.2 687.1,473.7 687.3,475.2 687.4,476.7 687.6,478.2 687.8,479.7 688.0,481.2 688.1,482.7 688.3,484.2 688.6,485.7 688.8,487.2 689.0,488.7 689.3,490.2 689.6,491.7 690.0,493.2 690.4,494.7 691.0,496.2 691.7,497.7 692.5,499.2 693.3,500.7 694.1,502.2 694.9,503.7 695.7,505.2 696.6,506.7 697.4,508.2 698.2,509.7 699.1,511.2 699.9,512.7 700.8,514.2 701.7,515.7 702.6,517.2 703.4,518.7 704.3,520.2 705.3,521.7 706.2,523.2 707.1,524.7 708.0,526.2 709.0,527.7 709.9,529.2 710.8,530.7 711.7,532.2 712.6,533.7 713.4,535.2 714.3,536.7 715.2,538.2 716.2,539.7 717.2,541.2 718.2,542.7 719.2,544.2 720.3,545.7 721.4,547.2 722.4,548.7 723.4,550.2 724.3,551.7 725.2,553.2 725.9,554.7 726.5,556.2 727.0,557.7 727.3,559.2 727.5,560.7 727.6,562.2 727.7,563.7 727.7,565.2 727.8,566.7 727.8,568.2 727.8,569.7 727.7,571.2 727.6,572.7 727.5,574.2 727.3,575.7 727.0,577.2 726.6,578.7 726.1,580.2 725.4,581.7 724.5,583.2 723.4,584.7 722.1,586.2 720.8,587.7 719.4,589.2 718.0,590.7 716.6,592.2 715.2,593.7 713.8,595.2 712.4,596.7 710.9,598.2 709.3,599.7 707.7,601.2 706.1,602.7 704.4,604.2 702.7,605.7 701.0,607.2 699.4,608.7 697.9,610.2 696.4,611.7 695.0,613.2 693.6,614.7 692.3,616.2 691.0,617.7 690.0,619.2 689.0,620.7 688.2,622.2 687.5,623.7 686.8,625.2 686.2,626.7 685.7,628.2 685.3,629.7 684.9,631.2 684.6,632.7 684.4,634.2 684.1,635.7 683.9,637.2 683.8,638.7 683.7,640.2 683.6,641.7 683.6,643.2 683.5,644.7 683.5,646.2 683.4,647.7 683.4,649.2 683.4,650.3 683.4,650.3 683.4,649.2 683.4,647.7 683.3,646.2 683.3,644.7 683.2,643.2 683.2,641.7 683.1,640.2 683.0,638.7 682.9,637.2 682.7,635.7 682.4,634.2 682.2,632.7 681.9,631.2 681.5,629.7 681.1,628.2 680.6,626.7 680.0,625.2 679.3,623.7 678.6,622.2 677.8,620.7 676.8,619.2 675.8,617.7 674.5,616.2 673.2,614.7 671.8,613.2 670.4,611.7 668.9,610.2 667.4,608.7 665.8,607.2 664.1,605.7 662.4,604.2 660.7,602.7 659.1,601.2 657.5,599.7 655.9,598.2 654.4,596.7 653.0,595.2 651.6,593.7 650.2,592.2 648.8,590.7 647.4,589.2 646.0,587.7 644.7,586.2 643.4,584.7 642.3,583.2 641.4,581.7 640.7,580.2 640.2,578.7 639.8,577.2 639.5,575.7 639.3,574.2 639.2,572.7 639.1,571.2 639.0,569.7 639.0,568.2 639.0,566.7 639.1,565.2 639.1,563.7 639.2,562.2 639.3,560.7 639.5,559.2 639.8,557.7 640.3,556.2 640.9,554.7 641.6,553.2 642.5,551.7 643.4,550.2 644.4,548.7 645.4,547.2 646.5,545.7 647.6,544.2 648.6,542.7 649.6,541.2 650.6,539.7 651.6,538.2 652.5,536.7 653.4,535.2 654.2,533.7 655.1,532.2 656.0,530.7 656.9,529.2 657.8,527.7 658.8,526.2 659.7,524.7 660.6,523.2 661.5,521.7 662.5,520.2 663.4,518.7 664.2,517.2 665.1,515.7 666.0,514.2 666.9,512.7 667.7,511.2 668.6,509.7 669.4,508.2 670.2,506.7 671.1,505.2 671.9,503.7 672.7,502.2 673.5,500.7 674.3,499.2 675.1,497.7 675.8,496.2 676.4,494.7 676.8,493.2 677.2,491.7 677.5,490.2 677.8,488.7 678.0,487.2 678.2,485.7 678.5,484.2 678.7,482.7 678.8,481.2 679.0,479.7 679.2,478.2 679.4,476.7 679.5,475.2 679.7,473.7 679.9,472.2 680.1,470.7 680.3,469.2 680.5,467.7 680.7,466.2 680.8,464.7 681.0,463.2 681.1,461.7 681.2,460.2 681.3,458.7 681.4,457.2 681.5,455.7 681.7,454.2 681.8,452.7 681.9,451.2 682.0,449.7 682.1,448.2 682.1,446.7 682.2,445.2 682.3,443.7 682.3,442.2 682.4,440.7 682.5,439.2 682.5,437.7 682.5,436.2 682.4,434.7 682.3,433.2 682.2,431.7 682.1,430.2 682.0,428.7 681.9,427.2 681.8,425.7 681.8,424.2 681.7,422.7 681.7,421.2 681.6,419.7 681.6,418.2 681.5,416.7 681.5,415.2 681.5,413.7 681.4,412.2 681.4,410.7 681.4,409.2 681.4,407.7 681.3,406.2 681.3,404.7 681.3,403.2 681.2,401.7 681.2,400.2 681.2,398.7 681.2,397.2 681.2,395.7 681.2,394.2 681.2,392.7 681.2,391.2 681.2,389.7 681.2,388.2 681.1,386.7 681.0,385.2 680.9,383.7 680.8,382.2 680.8,380.7 680.8,379.2 680.8,377.7 680.8,376.2 680.8,374.7 680.8,373.2 680.9,371.7 681.0,370.2 681.1,368.7 681.2,367.2 681.3,365.7 681.3,364.2 681.4,362.7 681.5,361.2 681.6,359.7 681.7,358.2 681.8,356.7 681.9,355.2 682.0,353.7 682.0,352.2 682.1,350.7 682.1,349.2 682.1,347.7 682.2,346.2 682.2,344.7 682.3,343.2 682.4,341.7 682.4,340.2 682.5,338.7 682.5,337.2 682.6,335.7 682.7,334.2 682.8,332.7 682.9,331.2 683.0,329.7 683.1,328.2 683.2,326.7 683.2,325.2 683.3,323.7 683.3,322.2 683.3,320.7 683.3,319.2 683.3,317.7 683.3,316.2 683.4,314.7 683.4,313.2 683.4,311.7 683.4,310.2 683.4,308.7 683.4,307.2 683.4,305.7Z" fill="#fff" stroke="#ea0000" stroke-width="1.9" stroke-linejoin="round"/>
<path d="M812.4,90.0 812.4,91.5 812.4,93.0 812.4,94.5 812.4,96.0 812.4,97.5 812.4,99.0 812.5,100.5 812.5,102.0 812.5,103.5 812.5,105.0 812.5,106.5 812.5,108.0 812.5,109.5 812.5,111.0 812.6,112.5 812.6,114.0 812.6,115.5 812.6,117.0 812.7,118.5 812.7,120.0 812.8,121.5 812.9,123.0 812.9,124.5 813.0,126.0 813.0,127.5 813.1,129.0 813.1,130.5 813.1,132.0 813.2,133.5 813.2,135.0 813.2,136.5 813.3,138.0 813.3,139.5 813.3,141.0 813.3,142.5 813.3,144.0 813.3,145.5 813.3,147.0 813.3,148.5 813.3,150.0 813.3,151.5 813.3,153.0 813.3,154.5 813.2,156.0 813.2,157.5 813.2,159.0 813.1,160.5 813.1,162.0 813.1,163.5 813.1,165.0 813.1,166.5 813.1,168.0 813.1,169.5 813.1,171.0 813.1,172.5 813.1,174.0 813.1,175.5 813.1,177.0 813.1,178.5 813.1,180.0 813.1,181.5 813.1,183.0 813.1,184.5 813.2,186.0 813.2,187.5 813.3,189.0 813.4,190.5 813.5,192.0 813.5,193.5 813.6,195.0 813.6,196.5 813.7,198.0 813.7,199.5 813.7,201.0 813.8,202.5 813.8,204.0 813.8,205.5 813.9,207.0 813.9,208.5 813.9,210.0 813.9,211.5 813.9,213.0 813.9,214.5 813.9,216.0 813.9,217.5 813.9,219.0 813.9,220.5 813.9,222.0 813.9,223.5 813.9,225.0 813.9,226.5 813.9,228.0 813.9,229.5 813.9,231.0 813.9,232.5 813.9,234.0 813.9,235.5 813.9,237.0 813.9,238.5 813.9,240.0 813.9,241.5 813.9,243.0 813.9,244.5 814.0,246.0 814.0,247.5 814.0,249.0 814.0,250.5 814.0,252.0 814.0,253.5 814.0,255.0 814.0,256.5 814.0,258.0 814.0,259.5 814.0,261.0 814.0,262.5 814.0,264.0 813.9,265.5 813.9,267.0 813.9,268.5 813.9,270.0 813.9,271.5 813.9,273.0 813.9,274.5 813.9,276.0 813.9,277.5 813.9,279.0 813.9,280.5 813.9,282.0 813.9,283.5 813.9,285.0 813.9,286.5 813.9,288.0 813.9,289.5 813.9,291.0 813.9,292.5 813.9,294.0 813.9,295.5 813.9,297.0 813.9,298.5 813.9,300.0 813.9,301.5 813.9,303.0 813.9,304.5 813.9,306.0 813.8,307.5 813.8,309.0 813.8,310.5 813.8,312.0 813.7,313.5 813.7,315.0 813.7,316.5 813.7,318.0 813.6,319.5 813.6,321.0 813.6,322.5 813.6,324.0 813.5,325.5 813.5,327.0 813.4,328.5 813.4,330.0 813.4,331.5 813.3,333.0 813.3,334.5 813.3,336.0 813.2,337.5 813.2,339.0 813.2,340.5 813.1,342.0 813.1,343.5 813.1,345.0 813.1,346.5 813.1,348.0 813.1,349.5 813.0,351.0 813.0,352.5 813.0,354.0 813.0,355.5 813.0,357.0 813.0,358.5 813.0,360.0 813.0,361.5 813.0,363.0 813.0,364.5 813.1,366.0 813.1,367.5 813.1,369.0 813.1,370.5 813.2,372.0 813.2,373.5 813.2,375.0 813.3,376.5 813.3,378.0 813.4,379.5 813.4,381.0 813.5,382.5 813.5,384.0 813.6,385.5 813.7,387.0 813.7,388.5 813.9,390.0 814.0,391.5 814.1,393.0 814.2,394.5 814.2,396.0 814.3,397.5 814.4,399.0 814.4,400.5 814.5,402.0 814.6,403.5 814.8,405.0 814.9,406.5 815.1,408.0 815.2,409.5 815.3,411.0 815.5,412.5 815.6,414.0 815.8,415.5 816.0,417.0 816.1,418.5 816.2,420.0 816.4,421.5 816.5,423.0 816.7,424.5 816.8,426.0 816.9,427.5 817.0,429.0 817.1,430.5 817.2,432.0 817.4,433.5 817.5,435.0 817.6,436.5 817.7,438.0 817.8,439.5 817.9,441.0 818.0,442.5 818.1,444.0 818.2,445.5 818.3,447.0 818.4,448.5 818.4,450.0 818.5,451.5 818.6,453.0 818.7,454.5 818.8,456.0 818.9,457.5 819.0,459.0 819.1,460.5 819.2,462.0 819.3,463.5 819.5,465.0 819.6,466.5 819.8,468.0 819.9,469.5 820.1,471.0 820.3,472.5 820.5,474.0 820.7,475.5 820.9,477.0 821.1,478.5 821.4,480.0 821.7,481.5 822.0,483.0 822.4,484.5 822.7,486.0 823.0,487.5 823.4,489.0 823.7,490.5 824.0,492.0 824.2,493.5 824.5,495.0 824.8,496.5 825.1,498.0 825.5,499.5 825.8,501.0 826.3,502.5 826.8,504.0 827.3,505.5 827.8,507.0 828.4,508.5 828.9,510.0 829.5,511.5 830.0,513.0 830.6,514.5 831.1,516.0 831.7,517.5 832.2,519.0 832.7,520.5 833.3,522.0 833.8,523.5 834.2,525.0 834.7,526.5 835.2,528.0 835.7,529.5 836.2,531.0 836.8,532.5 837.3,534.0 837.8,535.5 838.4,537.0 839.0,538.5 839.7,540.0 840.5,541.5 841.3,543.0 842.2,544.5 843.2,546.0 844.1,547.5 845.1,549.0 846.0,550.5 846.9,552.0 847.8,553.5 848.6,555.0 849.4,556.5 850.1,558.0 850.7,559.5 851.2,561.0 851.7,562.5 852.0,564.0 852.4,565.5 852.6,567.0 852.8,568.5 852.9,570.0 852.9,571.5 852.9,573.0 852.8,574.5 852.6,576.0 852.3,577.5 851.9,579.0 851.3,580.5 850.5,582.0 849.5,583.5 848.3,585.0 847.0,586.5 845.6,588.0 844.2,589.5 842.8,591.0 841.4,592.5 840.0,594.0 838.6,595.5 837.1,597.0 835.6,598.5 834.0,600.0 832.3,601.5 830.6,603.0 828.9,604.5 827.2,606.0 825.5,607.5 824.0,609.0 822.7,610.5 821.4,612.0 820.2,613.5 819.1,615.0 818.2,616.5 817.3,618.0 816.6,619.5 816.1,621.0 815.6,622.5 815.2,624.0 814.8,625.5 814.5,627.0 814.2,628.5 813.9,630.0 813.7,631.5 813.4,633.0 813.2,634.5 813.0,636.0 812.9,637.5 812.7,639.0 812.7,640.5 812.6,642.0 812.6,643.5 812.6,645.0 812.5,646.5 812.5,648.0 812.5,649.5 812.4,651.0 812.4,652.5 812.4,654.0 812.4,655.5 812.4,657.0 812.4,657.0 812.4,655.5 812.4,654.0 812.4,652.5 812.4,651.0 812.3,649.5 812.3,648.0 812.3,646.5 812.2,645.0 812.2,643.5 812.2,642.0 812.1,640.5 812.1,639.0 811.9,637.5 811.8,636.0 811.6,634.5 811.4,633.0 811.1,631.5 810.9,630.0 810.6,628.5 810.3,627.0 810.0,625.5 809.6,624.0 809.2,622.5 808.7,621.0 808.2,619.5 807.5,618.0 806.6,616.5 805.7,615.0 804.6,613.5 803.4,612.0 802.1,610.5 800.8,609.0 799.3,607.5 797.6,606.0 795.9,604.5 794.2,603.0 792.5,601.5 790.8,600.0 789.2,598.5 787.7,597.0 786.2,595.5 784.8,594.0 783.4,592.5 782.0,591.0 780.6,589.5 779.2,588.0 777.8,586.5 776.5,585.0 775.3,583.5 774.3,582.0 773.5,580.5 772.9,579.0 772.5,577.5 772.2,576.0 772.0,574.5 771.9,573.0 771.9,571.5 771.9,570.0 772.0,568.5 772.2,567.0 772.4,565.5 772.8,564.0 773.1,562.5 773.6,561.0 774.1,559.5 774.7,558.0 775.4,556.5 776.2,555.0 777.0,553.5 777.9,552.0 778.8,550.5 779.7,549.0 780.7,547.5 781.6,546.0 782.6,544.5 783.5,543.0 784.3,541.5 785.1,540.0 785.8,538.5 786.4,537.0 787.0,535.5 787.5,534.0 788.0,532.5 788.6,531.0 789.1,529.5 789.6,528.0 790.1,526.5 790.6,525.0 791.0,523.5 791.5,522.0 792.1,520.5 792.6,519.0 793.1,517.5 793.7,516.0 794.2,514.5 794.8,513.0 795.3,511.5 795.9,510.0 796.4,508.5 797.0,507.0 797.5,505.5 798.0,504.0 798.5,502.5 799.0,501.0 799.3,499.5 799.7,498.0 800.0,496.5 800.3,495.0 800.6,493.5 800.8,492.0 801.1,490.5 801.4,489.0 801.8,487.5 802.1,486.0 802.4,484.5 802.8,483.0 803.1,481.5 803.4,480.0 803.7,478.5 803.9,477.0 804.1,475.5 804.3,474.0 804.5,472.5 804.7,471.0 804.9,469.5 805.0,468.0 805.2,466.5 805.3,465.0 805.5,463.5 805.6,462.0 805.7,460.5 805.8,459.0 805.9,457.5 806.0,456.0 806.1,454.5 806.2,453.0 806.3,451.5 806.4,450.0 806.4,448.5 806.5,447.0 806.6,445.5 806.7,444.0 806.8,442.5 806.9,441.0 807.0,439.5 807.1,438.0 807.2,436.5 807.3,435.0 807.4,433.5 807.6,432.0 807.7,430.5 807.8,429.0 807.9,427.5 808.0,426.0 808.1,424.5 808.3,423.0 808.4,421.5 808.5,420.0 808.7,418.5 808.8,417.0 809.0,415.5 809.2,414.0 809.3,412.5 809.5,411.0 809.6,409.5 809.7,408.0 809.9,406.5 810.0,405.0 810.2,403.5 810.3,402.0 810.4,400.5 810.4,399.0 810.5,397.5 810.6,396.0 810.6,394.5 810.7,393.0 810.8,391.5 810.9,390.0 811.1,388.5 811.1,387.0 811.2,385.5 811.3,384.0 811.3,382.5 811.4,381.0 811.4,379.5 811.5,378.0 811.5,376.5 811.5,375.0 811.6,373.5 811.6,372.0 811.7,370.5 811.7,369.0 811.7,367.5 811.7,366.0 811.8,364.5 811.8,363.0 811.8,361.5 811.8,360.0 811.8,358.5 811.8,357.0 811.8,355.5 811.8,354.0 811.8,352.5 811.8,351.0 811.7,349.5 811.7,348.0 811.7,346.5 811.7,345.0 811.7,343.5 811.7,342.0 811.6,340.5 811.6,339.0 811.6,337.5 811.5,336.0 811.5,334.5 811.5,333.0 811.4,331.5 811.4,330.0 811.4,328.5 811.3,327.0 811.3,325.5 811.2,324.0 811.2,322.5 811.2,321.0 811.2,319.5 811.1,318.0 811.1,316.5 811.1,315.0 811.1,313.5 811.0,312.0 811.0,310.5 811.0,309.0 811.0,307.5 810.9,306.0 810.9,304.5 810.9,303.0 810.9,301.5 810.9,300.0 810.9,298.5 810.9,297.0 810.9,295.5 810.9,294.0 810.9,292.5 810.9,291.0 810.9,289.5 810.9,288.0 810.9,286.5 810.9,285.0 810.9,283.5 810.9,282.0 810.9,280.5 810.9,279.0 810.9,277.5 810.9,276.0 810.9,274.5 810.9,273.0 810.9,271.5 810.9,270.0 810.9,268.5 810.9,267.0 810.9,265.5 810.8,264.0 810.8,262.5 810.8,261.0 810.8,259.5 810.8,258.0 810.8,256.5 810.8,255.0 810.8,253.5 810.8,252.0 810.8,250.5 810.8,249.0 810.8,247.5 810.8,246.0 810.9,244.5 810.9,243.0 810.9,241.5 810.9,240.0 810.9,238.5 810.9,237.0 810.9,235.5 810.9,234.0 810.9,232.5 810.9,231.0 810.9,229.5 810.9,228.0 810.9,226.5 810.9,225.0 810.9,223.5 810.9,222.0 810.9,220.5 810.9,219.0 810.9,217.5 810.9,216.0 810.9,214.5 810.9,213.0 810.9,211.5 810.9,210.0 810.9,208.5 810.9,207.0 811.0,205.5 811.0,204.0 811.0,202.5 811.1,201.0 811.1,199.5 811.1,198.0 811.2,196.5 811.2,195.0 811.3,193.5 811.3,192.0 811.4,190.5 811.5,189.0 811.6,187.5 811.6,186.0 811.6,184.5 811.6,183.0 811.6,181.5 811.6,180.0 811.6,178.5 811.6,177.0 811.6,175.5 811.6,174.0 811.6,172.5 811.6,171.0 811.7,169.5 811.7,168.0 811.7,166.5 811.7,165.0 811.7,163.5 811.7,162.0 811.7,160.5 811.6,159.0 811.6,157.5 811.6,156.0 811.5,154.5 811.5,153.0 811.5,151.5 811.5,150.0 811.5,148.5 811.5,147.0 811.5,145.5 811.5,144.0 811.5,142.5 811.5,141.0 811.5,139.5 811.5,138.0 811.6,136.5 811.6,135.0 811.6,133.5 811.7,132.0 811.7,130.5 811.7,129.0 811.8,127.5 811.8,126.0 811.9,124.5 811.9,123.0 812.0,121.5 812.1,120.0 812.1,118.5 812.2,117.0 812.2,115.5 812.2,114.0 812.2,112.5 812.3,111.0 812.3,109.5 812.3,108.0 812.3,106.5 812.3,105.0 812.3,103.5 812.3,102.0 812.3,100.5 812.4,99.0 812.4,97.5 812.4,96.0 812.4,94.5 812.4,93.0 812.4,91.5 812.4,90.0Z" fill="#fff" stroke="#43b341" stroke-width="1.9" stroke-linejoin="round"/>
<path d="M898.8,302.4 898.8,303.9 898.8,305.4 898.8,306.9 898.8,308.4 898.9,309.9 898.9,311.4 898.9,312.9 898.9,314.4 899.0,315.9 899.0,317.4 899.1,318.9 899.2,320.4 899.3,321.9 899.4,323.4 899.5,324.9 899.6,326.4 899.7,327.9 899.8,329.4 899.8,330.9 899.9,332.4 900.0,333.9 900.1,335.4 900.1,336.9 900.2,338.4 900.2,339.9 900.3,341.4 900.3,342.9 900.4,344.4 900.4,345.9 900.4,347.4 900.5,348.9 900.5,350.4 900.6,351.9 900.7,353.4 900.7,354.9 900.8,356.4 900.9,357.9 900.9,359.4 901.0,360.9 901.1,362.4 901.3,363.9 901.4,365.4 901.6,366.9 901.7,368.4 901.8,369.9 901.8,371.4 901.8,372.9 901.8,374.4 901.8,375.9 901.8,377.4 901.8,378.9 901.7,380.4 901.6,381.9 901.4,383.4 901.2,384.9 901.0,386.4 900.8,387.9 900.5,389.4 900.3,390.9 900.1,392.4 899.8,393.9 899.5,395.4 899.3,396.9 899.2,398.4 899.1,399.9 899.1,401.4 899.1,402.9 899.1,404.4 899.1,405.9 899.2,407.4 899.3,408.9 899.5,410.4 899.6,411.9 899.8,413.4 899.9,414.9 900.0,416.4 900.1,417.9 900.2,419.4 900.3,420.9 900.4,422.4 900.4,423.9 900.5,425.4 900.6,426.9 900.7,428.4 900.8,429.9 900.8,431.4 900.8,432.9 900.8,434.4 900.9,435.9 900.9,437.4 900.9,438.9 900.9,440.4 900.9,441.9 900.9,443.4 901.0,444.9 901.0,446.4 901.0,447.9 901.0,449.4 901.0,450.9 901.1,452.4 901.1,453.9 901.1,455.4 901.2,456.9 901.3,458.4 901.5,459.9 901.7,461.4 901.9,462.9 902.1,464.4 902.3,465.9 902.5,467.4 902.7,468.9 902.8,470.4 903.0,471.9 903.2,473.4 903.4,474.9 903.6,476.4 903.8,477.9 904.0,479.4 904.2,480.9 904.4,482.4 904.6,483.9 904.7,485.4 904.9,486.9 905.1,488.4 905.2,489.9 905.4,491.4 905.6,492.9 905.9,494.4 906.4,495.9 907.1,497.4 907.9,498.9 908.6,500.4 909.3,501.9 910.1,503.4 910.9,504.9 911.7,506.4 912.5,507.9 913.4,509.4 914.3,510.9 915.2,512.4 916.1,513.9 917.0,515.4 917.9,516.9 918.8,518.4 919.8,519.9 920.8,521.4 921.8,522.9 922.9,524.4 923.9,525.9 925.0,527.4 926.0,528.9 927.0,530.4 928.0,531.9 928.9,533.4 929.8,534.9 930.7,536.4 931.6,537.9 932.5,539.4 933.4,540.9 934.3,542.4 935.2,543.9 936.1,545.4 937.0,546.9 937.8,548.4 938.5,549.9 939.1,551.4 939.8,552.9 940.3,554.4 940.8,555.9 941.2,557.4 941.4,558.9 941.5,560.4 941.5,561.9 941.4,563.4 941.2,564.9 940.9,566.4 940.7,567.9 940.4,569.4 940.2,570.9 939.9,572.4 939.6,573.9 939.3,575.4 939.0,576.9 938.6,578.4 938.2,579.9 937.7,581.4 937.1,582.9 936.4,584.4 935.6,585.9 934.7,587.4 933.8,588.9 932.8,590.4 931.7,591.9 930.5,593.4 929.2,594.9 927.9,596.4 926.5,597.9 925.0,599.4 923.5,600.9 921.9,602.4 920.3,603.9 918.7,605.4 917.1,606.9 915.5,608.4 914.0,609.9 912.5,611.4 911.1,612.9 909.7,614.4 908.4,615.9 907.2,617.4 906.1,618.9 905.1,620.4 904.2,621.9 903.4,623.4 902.7,624.9 902.0,626.4 901.4,627.9 901.0,629.4 900.6,630.9 900.2,632.4 899.9,633.9 899.6,635.4 899.4,636.9 899.2,638.4 899.1,639.9 899.0,641.4 899.0,642.9 898.9,644.4 898.9,645.9 898.8,647.4 898.8,648.9 898.8,650.3 898.8,650.3 898.8,648.9 898.8,647.4 898.7,645.9 898.7,644.4 898.6,642.9 898.6,641.4 898.5,639.9 898.4,638.4 898.2,636.9 898.0,635.4 897.7,633.9 897.4,632.4 897.0,630.9 896.6,629.4 896.2,627.9 895.6,626.4 894.9,624.9 894.2,623.4 893.4,621.9 892.5,620.4 891.5,618.9 890.4,617.4 889.2,615.9 887.9,614.4 886.5,612.9 885.1,611.4 883.6,609.9 882.1,608.4 880.5,606.9 878.9,605.4 877.3,603.9 875.7,602.4 874.1,600.9 872.6,599.4 871.1,597.9 869.7,596.4 868.4,594.9 867.1,593.4 865.9,591.9 864.8,590.4 863.8,588.9 862.9,587.4 862.0,585.9 861.2,584.4 860.5,582.9 859.9,581.4 859.4,579.9 859.0,578.4 858.6,576.9 858.3,575.4 858.0,573.9 857.7,572.4 857.4,570.9 857.2,569.4 856.9,567.9 856.7,566.4 856.4,564.9 856.2,563.4 856.1,561.9 856.1,560.4 856.2,558.9 856.4,557.4 856.8,555.9 857.3,554.4 857.8,552.9 858.5,551.4 859.1,549.9 859.8,548.4 860.6,546.9 861.5,545.4 862.4,543.9 863.3,542.4 864.2,540.9 865.1,539.4 866.0,537.9 866.9,536.4 867.8,534.9 868.7,533.4 869.6,531.9 870.6,530.4 871.6,528.9 872.6,527.4 873.7,525.9 874.7,524.4 875.8,522.9 876.8,521.4 877.8,519.9 878.8,518.4 879.7,516.9 880.6,515.4 881.5,513.9 882.4,512.4 883.3,510.9 884.2,509.4 885.1,507.9 885.9,506.4 886.7,504.9 887.5,503.4 888.3,501.9 889.0,500.4 889.7,498.9 890.5,497.4 891.2,495.9 891.7,494.4 892.0,492.9 892.2,491.4 892.4,489.9 892.5,488.4 892.7,486.9 892.9,485.4 893.0,483.9 893.2,482.4 893.4,480.9 893.6,479.4 893.8,477.9 894.0,476.4 894.2,474.9 894.4,473.4 894.6,471.9 894.8,470.4 894.9,468.9 895.1,467.4 895.3,465.9 895.5,464.4 895.7,462.9 895.9,461.4 896.1,459.9 896.3,458.4 896.4,456.9 896.5,455.4 896.5,453.9 896.5,452.4 896.6,450.9 896.6,449.4 896.6,447.9 896.6,446.4 896.6,444.9 896.7,443.4 896.7,441.9 896.7,440.4 896.7,438.9 896.7,437.4 896.7,435.9 896.8,434.4 896.8,432.9 896.8,431.4 896.8,429.9 896.9,428.4 897.0,426.9 897.1,425.4 897.2,423.9 897.2,422.4 897.3,420.9 897.4,419.4 897.5,417.9 897.6,416.4 897.7,414.9 897.8,413.4 898.0,411.9 898.1,410.4 898.3,408.9 898.4,407.4 898.5,405.9 898.5,404.4 898.5,402.9 898.5,401.4 898.5,399.9 898.4,398.4 898.3,396.9 898.1,395.4 897.8,393.9 897.5,392.4 897.3,390.9 897.1,389.4 896.8,387.9 896.6,386.4 896.4,384.9 896.2,383.4 896.0,381.9 895.9,380.4 895.8,378.9 895.8,377.4 895.8,375.9 895.8,374.4 895.8,372.9 895.8,371.4 895.8,369.9 895.9,368.4 896.0,366.9 896.2,365.4 896.3,363.9 896.5,362.4 896.6,360.9 896.7,359.4 896.7,357.9 896.8,356.4 896.9,354.9 896.9,353.4 897.0,351.9 897.1,350.4 897.1,348.9 897.2,347.4 897.2,345.9 897.2,344.4 897.3,342.9 897.3,341.4 897.4,339.9 897.4,338.4 897.5,336.9 897.5,335.4 897.6,333.9 897.7,332.4 897.8,330.9 897.8,329.4 897.9,327.9 898.0,326.4 898.1,324.9 898.2,323.4 898.3,321.9 898.4,320.4 898.5,318.9 898.6,317.4 898.6,315.9 898.7,314.4 898.7,312.9 898.7,311.4 898.7,309.9 898.8,308.4 898.8,306.9 898.8,305.4 898.8,303.9 898.8,302.4Z" fill="#fff" stroke="#ea0000" stroke-width="1.9" stroke-linejoin="round"/>
<path d="M1027.7,92.6 1027.7,94.1 1027.7,95.6 1027.7,97.1 1027.7,98.6 1027.7,100.1 1027.7,101.6 1027.7,103.1 1027.7,104.6 1027.8,106.1 1027.8,107.6 1027.8,109.1 1027.8,110.6 1027.8,112.1 1027.8,113.6 1027.8,115.1 1027.8,116.6 1027.8,118.1 1027.8,119.6 1027.9,121.1 1027.9,122.6 1027.9,124.1 1028.0,125.6 1028.0,127.1 1028.1,128.6 1028.1,130.1 1028.2,131.6 1028.2,133.1 1028.3,134.6 1028.3,136.1 1028.4,137.6 1028.4,139.1 1028.5,140.6 1028.5,142.1 1028.6,143.6 1028.6,145.1 1028.6,146.6 1028.6,148.1 1028.6,149.6 1028.6,151.1 1028.6,152.6 1028.6,154.1 1028.5,155.6 1028.5,157.1 1028.5,158.6 1028.5,160.1 1028.5,161.6 1028.5,163.1 1028.5,164.6 1028.4,166.1 1028.4,167.6 1028.4,169.1 1028.4,170.6 1028.4,172.1 1028.4,173.6 1028.4,175.1 1028.4,176.6 1028.4,178.1 1028.4,179.6 1028.5,181.1 1028.5,182.6 1028.5,184.1 1028.6,185.6 1028.6,187.1 1028.7,188.6 1028.7,190.1 1028.7,191.6 1028.8,193.1 1028.8,194.6 1028.9,196.1 1028.9,197.6 1029.0,199.1 1029.0,200.6 1029.0,202.1 1029.1,203.6 1029.1,205.1 1029.1,206.6 1029.1,208.1 1029.2,209.6 1029.2,211.1 1029.2,212.6 1029.2,214.1 1029.2,215.6 1029.2,217.1 1029.2,218.6 1029.2,220.1 1029.2,221.6 1029.2,223.1 1029.2,224.6 1029.2,226.1 1029.2,227.6 1029.2,229.1 1029.2,230.6 1029.2,232.1 1029.2,233.6 1029.2,235.1 1029.2,236.6 1029.2,238.1 1029.2,239.6 1029.2,241.1 1029.2,242.6 1029.2,244.1 1029.2,245.6 1029.2,247.1 1029.2,248.6 1029.2,250.1 1029.2,251.6 1029.1,253.1 1029.1,254.6 1029.1,256.1 1029.1,257.6 1029.1,259.1 1029.1,260.6 1029.1,262.1 1029.1,263.6 1029.1,265.1 1029.1,266.6 1029.1,268.1 1029.1,269.6 1029.1,271.1 1029.1,272.6 1029.1,274.1 1029.1,275.6 1029.1,277.1 1029.1,278.6 1029.1,280.1 1029.1,281.6 1029.1,283.1 1029.1,284.6 1029.1,286.1 1029.1,287.6 1029.1,289.1 1029.1,290.6 1029.1,292.1 1029.1,293.6 1029.1,295.1 1029.1,296.6 1029.1,298.1 1029.1,299.6 1029.1,301.1 1029.1,302.6 1029.1,304.1 1029.1,305.6 1029.1,307.1 1029.1,308.6 1029.0,310.1 1029.0,311.6 1029.0,313.1 1029.0,314.6 1029.0,316.1 1029.0,317.6 1028.9,319.1 1028.9,320.6 1028.8,322.1 1028.7,323.6 1028.7,325.1 1028.7,326.6 1028.6,328.1 1028.6,329.6 1028.6,331.1 1028.6,332.6 1028.5,334.1 1028.5,335.6 1028.5,337.1 1028.5,338.6 1028.5,340.1 1028.4,341.6 1028.4,343.1 1028.4,344.6 1028.4,346.1 1028.4,347.6 1028.3,349.1 1028.3,350.6 1028.3,352.1 1028.3,353.6 1028.3,355.1 1028.3,356.6 1028.3,358.1 1028.3,359.6 1028.3,361.1 1028.3,362.6 1028.3,364.1 1028.3,365.6 1028.3,367.1 1028.4,368.6 1028.4,370.1 1028.4,371.6 1028.5,373.1 1028.5,374.6 1028.5,376.1 1028.6,377.6 1028.6,379.1 1028.7,380.6 1028.7,382.1 1028.8,383.6 1028.9,385.1 1029.0,386.6 1029.1,388.1 1029.2,389.6 1029.3,391.1 1029.4,392.6 1029.5,394.1 1029.5,395.6 1029.5,397.1 1029.6,398.6 1029.6,400.1 1029.7,401.6 1029.8,403.1 1029.9,404.6 1030.0,406.1 1030.2,407.6 1030.3,409.1 1030.5,410.6 1030.6,412.1 1030.7,413.6 1030.9,415.1 1031.1,416.6 1031.2,418.1 1031.4,419.6 1031.5,421.1 1031.7,422.6 1031.8,424.1 1032.0,425.6 1032.1,427.1 1032.3,428.6 1032.4,430.1 1032.5,431.6 1032.7,433.1 1032.8,434.6 1032.9,436.1 1033.0,437.6 1033.1,439.1 1033.2,440.6 1033.3,442.1 1033.4,443.6 1033.5,445.1 1033.6,446.6 1033.6,448.1 1033.7,449.6 1033.8,451.1 1033.9,452.6 1034.0,454.1 1034.1,455.6 1034.2,457.1 1034.3,458.6 1034.4,460.1 1034.5,461.6 1034.6,463.1 1034.7,464.6 1034.8,466.1 1034.9,467.6 1035.0,469.1 1035.2,470.6 1035.4,472.1 1035.5,473.6 1035.8,475.1 1036.0,476.6 1036.2,478.1 1036.5,479.6 1036.8,481.1 1037.1,482.6 1037.4,484.1 1037.8,485.6 1038.1,487.1 1038.4,488.6 1038.7,490.1 1039.0,491.6 1039.3,493.1 1039.5,494.6 1039.8,496.1 1040.1,497.6 1040.4,499.1 1040.8,500.6 1041.2,502.1 1041.6,503.6 1042.1,505.1 1042.6,506.6 1043.1,508.1 1043.6,509.6 1044.1,511.1 1044.6,512.6 1045.2,514.1 1045.7,515.6 1046.3,517.1 1046.9,518.6 1047.4,520.1 1048.0,521.6 1048.5,523.1 1049.0,524.6 1049.6,526.1 1050.1,527.6 1050.7,529.1 1051.2,530.6 1051.8,532.1 1052.3,533.6 1052.9,535.1 1053.5,536.6 1054.1,538.1 1054.8,539.6 1055.5,541.1 1056.3,542.6 1057.1,544.1 1058.0,545.6 1058.9,547.1 1059.8,548.6 1060.7,550.1 1061.6,551.6 1062.5,553.1 1063.3,554.6 1064.2,556.1 1064.9,557.6 1065.5,559.1 1066.1,560.6 1066.5,562.1 1066.9,563.6 1067.2,565.1 1067.4,566.6 1067.6,568.1 1067.7,569.6 1067.7,571.1 1067.7,572.6 1067.6,574.1 1067.5,575.6 1067.2,577.1 1066.8,578.6 1066.2,580.1 1065.5,581.6 1064.5,583.1 1063.4,584.6 1062.2,586.1 1060.9,587.6 1059.6,589.1 1058.3,590.6 1056.9,592.1 1055.5,593.6 1054.1,595.1 1052.6,596.6 1051.1,598.1 1049.5,599.6 1047.9,601.1 1046.2,602.6 1044.4,604.1 1042.7,605.6 1041.0,607.1 1039.5,608.6 1038.1,610.1 1036.9,611.6 1035.7,613.1 1034.6,614.6 1033.7,616.1 1032.8,617.6 1032.1,619.1 1031.5,620.6 1031.0,622.1 1030.5,623.6 1030.0,625.1 1029.7,626.6 1029.3,628.1 1029.1,629.6 1028.8,631.1 1028.6,632.6 1028.4,634.1 1028.2,635.6 1028.1,637.1 1028.0,638.6 1027.9,640.1 1027.9,641.6 1027.8,643.1 1027.8,644.6 1027.8,646.1 1027.8,647.6 1027.7,649.1 1027.7,650.6 1027.7,652.1 1027.7,653.6 1027.7,655.1 1027.7,656.6 1027.7,658.0 1027.7,658.0 1027.7,656.6 1027.7,655.1 1027.7,653.6 1027.7,652.1 1027.7,650.6 1027.7,649.1 1027.6,647.6 1027.6,646.1 1027.6,644.6 1027.6,643.1 1027.5,641.6 1027.5,640.1 1027.4,638.6 1027.3,637.1 1027.2,635.6 1027.0,634.1 1026.8,632.6 1026.6,631.1 1026.3,629.6 1026.1,628.1 1025.7,626.6 1025.4,625.1 1024.9,623.6 1024.4,622.1 1023.9,620.6 1023.3,619.1 1022.6,617.6 1021.7,616.1 1020.8,614.6 1019.7,613.1 1018.5,611.6 1017.3,610.1 1015.9,608.6 1014.4,607.1 1012.7,605.6 1011.0,604.1 1009.2,602.6 1007.5,601.1 1005.9,599.6 1004.3,598.1 1002.8,596.6 1001.3,595.1 999.9,593.6 998.5,592.1 997.1,590.6 995.8,589.1 994.5,587.6 993.2,586.1 992.0,584.6 990.9,583.1 989.9,581.6 989.2,580.1 988.6,578.6 988.2,577.1 987.9,575.6 987.8,574.1 987.7,572.6 987.7,571.1 987.7,569.6 987.8,568.1 988.0,566.6 988.2,565.1 988.5,563.6 988.9,562.1 989.3,560.6 989.9,559.1 990.5,557.6 991.2,556.1 992.1,554.6 992.9,553.1 993.8,551.6 994.7,550.1 995.6,548.6 996.5,547.1 997.4,545.6 998.3,544.1 999.1,542.6 999.9,541.1 1000.6,539.6 1001.3,538.1 1001.9,536.6 1002.5,535.1 1003.1,533.6 1003.6,532.1 1004.2,530.6 1004.7,529.1 1005.3,527.6 1005.8,526.1 1006.4,524.6 1006.9,523.1 1007.4,521.6 1008.0,520.1 1008.5,518.6 1009.1,517.1 1009.7,515.6 1010.2,514.1 1010.8,512.6 1011.3,511.1 1011.8,509.6 1012.3,508.1 1012.8,506.6 1013.3,505.1 1013.8,503.6 1014.2,502.1 1014.6,500.6 1015.0,499.1 1015.3,497.6 1015.6,496.1 1015.9,494.6 1016.1,493.1 1016.4,491.6 1016.7,490.1 1017.0,488.6 1017.3,487.1 1017.6,485.6 1018.0,484.1 1018.3,482.6 1018.6,481.1 1018.9,479.6 1019.2,478.1 1019.4,476.6 1019.6,475.1 1019.9,473.6 1020.0,472.1 1020.2,470.6 1020.4,469.1 1020.5,467.6 1020.6,466.1 1020.7,464.6 1020.8,463.1 1020.9,461.6 1021.0,460.1 1021.1,458.6 1021.2,457.1 1021.3,455.6 1021.4,454.1 1021.5,452.6 1021.6,451.1 1021.7,449.6 1021.8,448.1 1021.8,446.6 1021.9,445.1 1022.0,443.6 1022.1,442.1 1022.2,440.6 1022.3,439.1 1022.4,437.6 1022.5,436.1 1022.6,434.6 1022.7,433.1 1022.9,431.6 1023.0,430.1 1023.1,428.6 1023.3,427.1 1023.4,425.6 1023.6,424.1 1023.7,422.6 1023.9,421.1 1024.0,419.6 1024.2,418.1 1024.3,416.6 1024.5,415.1 1024.7,413.6 1024.8,412.1 1024.9,410.6 1025.1,409.1 1025.2,407.6 1025.4,406.1 1025.5,404.6 1025.6,403.1 1025.7,401.6 1025.8,400.1 1025.8,398.6 1025.9,397.1 1025.9,395.6 1025.9,394.1 1026.0,392.6 1026.1,391.1 1026.2,389.6 1026.3,388.1 1026.4,386.6 1026.5,385.1 1026.6,383.6 1026.7,382.1 1026.7,380.6 1026.8,379.1 1026.8,377.6 1026.9,376.1 1026.9,374.6 1026.9,373.1 1027.0,371.6 1027.0,370.1 1027.0,368.6 1027.1,367.1 1027.1,365.6 1027.1,364.1 1027.1,362.6 1027.1,361.1 1027.1,359.6 1027.1,358.1 1027.1,356.6 1027.1,355.1 1027.1,353.6 1027.1,352.1 1027.1,350.6 1027.1,349.1 1027.0,347.6 1027.0,346.1 1027.0,344.6 1027.0,343.1 1027.0,341.6 1026.9,340.1 1026.9,338.6 1026.9,337.1 1026.9,335.6 1026.9,334.1 1026.8,332.6 1026.8,331.1 1026.8,329.6 1026.8,328.1 1026.7,326.6 1026.7,325.1 1026.7,323.6 1026.6,322.1 1026.5,320.6 1026.5,319.1 1026.4,317.6 1026.4,316.1 1026.4,314.6 1026.4,313.1 1026.4,311.6 1026.4,310.1 1026.3,308.6 1026.3,307.1 1026.3,305.6 1026.3,304.1 1026.3,302.6 1026.3,301.1 1026.3,299.6 1026.3,298.1 1026.3,296.6 1026.3,295.1 1026.3,293.6 1026.3,292.1 1026.3,290.6 1026.3,289.1 1026.3,287.6 1026.3,286.1 1026.3,284.6 1026.3,283.1 1026.3,281.6 1026.3,280.1 1026.3,278.6 1026.3,277.1 1026.3,275.6 1026.3,274.1 1026.3,272.6 1026.3,271.1 1026.3,269.6 1026.3,268.1 1026.3,266.6 1026.3,265.1 1026.3,263.6 1026.3,262.1 1026.3,260.6 1026.3,259.1 1026.3,257.6 1026.3,256.1 1026.3,254.6 1026.3,253.1 1026.2,251.6 1026.2,250.1 1026.2,248.6 1026.2,247.1 1026.2,245.6 1026.2,244.1 1026.2,242.6 1026.2,241.1 1026.2,239.6 1026.2,238.1 1026.2,236.6 1026.2,235.1 1026.2,233.6 1026.2,232.1 1026.2,230.6 1026.2,229.1 1026.2,227.6 1026.2,226.1 1026.2,224.6 1026.2,223.1 1026.2,221.6 1026.2,220.1 1026.2,218.6 1026.2,217.1 1026.2,215.6 1026.2,214.1 1026.2,212.6 1026.2,211.1 1026.2,209.6 1026.3,208.1 1026.3,206.6 1026.3,205.1 1026.3,203.6 1026.4,202.1 1026.4,200.6 1026.4,199.1 1026.5,197.6 1026.5,196.1 1026.6,194.6 1026.6,193.1 1026.7,191.6 1026.7,190.1 1026.7,188.6 1026.8,187.1 1026.8,185.6 1026.9,184.1 1026.9,182.6 1026.9,181.1 1027.0,179.6 1027.0,178.1 1027.0,176.6 1027.0,175.1 1027.0,173.6 1027.0,172.1 1027.0,170.6 1027.0,169.1 1027.0,167.6 1027.0,166.1 1026.9,164.6 1026.9,163.1 1026.9,161.6 1026.9,160.1 1026.9,158.6 1026.9,157.1 1026.9,155.6 1026.8,154.1 1026.8,152.6 1026.8,151.1 1026.8,149.6 1026.8,148.1 1026.8,146.6 1026.8,145.1 1026.8,143.6 1026.9,142.1 1026.9,140.6 1027.0,139.1 1027.0,137.6 1027.1,136.1 1027.1,134.6 1027.2,133.1 1027.2,131.6 1027.3,130.1 1027.3,128.6 1027.4,127.1 1027.4,125.6 1027.5,124.1 1027.5,122.6 1027.5,121.1 1027.6,119.6 1027.6,118.1 1027.6,116.6 1027.6,115.1 1027.6,113.6 1027.6,112.1 1027.6,110.6 1027.6,109.1 1027.6,107.6 1027.6,106.1 1027.7,104.6 1027.7,103.1 1027.7,101.6 1027.7,100.1 1027.7,98.6 1027.7,97.1 1027.7,95.6 1027.7,94.1 1027.7,92.6Z" fill="#fff" stroke="#43b341" stroke-width="1.9" stroke-linejoin="round"/>
<path d="M1113.8,302.6 1113.8,304.1 1113.8,305.6 1113.8,307.1 1113.8,308.6 1113.9,310.1 1113.9,311.6 1113.9,313.1 1113.9,314.6 1114.0,316.1 1114.0,317.6 1114.1,319.1 1114.2,320.6 1114.3,322.1 1114.4,323.6 1114.5,325.1 1114.6,326.6 1114.7,328.1 1114.8,329.6 1114.9,331.1 1114.9,332.6 1115.0,334.1 1115.1,335.6 1115.1,337.1 1115.2,338.6 1115.2,340.1 1115.3,341.6 1115.3,343.1 1115.3,344.6 1115.4,346.1 1115.4,347.6 1115.5,349.1 1115.5,350.6 1115.6,352.1 1115.7,353.6 1115.8,355.1 1115.9,356.6 1116.1,358.1 1116.2,359.6 1116.3,361.1 1116.4,362.6 1116.5,364.1 1116.6,365.6 1116.6,367.1 1116.6,368.6 1116.6,370.1 1116.6,371.6 1116.5,373.1 1116.5,374.6 1116.4,376.1 1116.2,377.6 1116.1,379.1 1115.9,380.6 1115.7,382.1 1115.6,383.6 1115.5,385.1 1115.3,386.6 1115.2,388.1 1115.0,389.6 1114.9,391.1 1114.7,392.6 1114.5,394.1 1114.4,395.6 1114.2,397.1 1114.1,398.6 1114.1,400.1 1114.1,401.6 1114.1,403.1 1114.1,404.6 1114.1,406.1 1114.1,407.6 1114.1,409.1 1114.2,410.6 1114.4,412.1 1114.6,413.6 1114.8,415.1 1114.9,416.6 1115.0,418.1 1115.1,419.6 1115.2,421.1 1115.3,422.6 1115.5,424.1 1115.6,425.6 1115.7,427.1 1115.7,428.6 1115.7,430.1 1115.7,431.6 1115.7,433.1 1115.7,434.6 1115.7,436.1 1115.7,437.6 1115.7,439.1 1115.7,440.6 1115.8,442.1 1115.8,443.6 1115.8,445.1 1115.8,446.6 1115.8,448.1 1115.9,449.6 1115.9,451.1 1115.9,452.6 1116.0,454.1 1116.0,455.6 1116.1,457.1 1116.3,458.6 1116.5,460.1 1116.7,461.6 1116.9,463.1 1117.1,464.6 1117.2,466.1 1117.4,467.6 1117.6,469.1 1117.8,470.6 1118.0,472.1 1118.1,473.6 1118.3,475.1 1118.5,476.6 1118.6,478.1 1118.8,479.6 1119.0,481.1 1119.1,482.6 1119.3,484.1 1119.5,485.6 1119.6,487.1 1119.8,488.6 1120.0,490.1 1120.2,491.6 1120.5,493.1 1120.8,494.6 1121.3,496.1 1122.0,497.6 1122.8,499.1 1123.6,500.6 1124.3,502.1 1125.1,503.6 1125.9,505.1 1126.8,506.6 1127.7,508.1 1128.6,509.6 1129.5,511.1 1130.4,512.6 1131.3,514.1 1132.2,515.6 1133.1,517.1 1134.0,518.6 1135.0,520.1 1135.9,521.6 1136.9,523.1 1137.8,524.6 1138.8,526.1 1139.8,527.6 1140.7,529.1 1141.7,530.6 1142.7,532.1 1143.7,533.6 1144.6,535.1 1145.6,536.6 1146.6,538.1 1147.6,539.6 1148.5,541.1 1149.5,542.6 1150.5,544.1 1151.4,545.6 1152.3,547.1 1153.1,548.6 1153.9,550.1 1154.5,551.6 1155.1,553.1 1155.6,554.6 1156.1,556.1 1156.4,557.6 1156.6,559.1 1156.7,560.6 1156.7,562.1 1156.5,563.6 1156.3,565.1 1156.1,566.6 1155.8,568.1 1155.6,569.6 1155.3,571.1 1155.0,572.6 1154.7,574.1 1154.4,575.6 1154.0,577.1 1153.6,578.6 1153.1,580.1 1152.6,581.6 1152.0,583.1 1151.2,584.6 1150.4,586.1 1149.5,587.6 1148.6,589.1 1147.6,590.6 1146.5,592.1 1145.3,593.6 1144.0,595.1 1142.7,596.6 1141.3,598.1 1139.8,599.6 1138.3,601.1 1136.7,602.6 1135.1,604.1 1133.5,605.6 1131.9,607.1 1130.3,608.6 1128.8,610.1 1127.3,611.6 1125.9,613.1 1124.6,614.6 1123.3,616.1 1122.1,617.6 1121.0,619.1 1120.0,620.6 1119.1,622.1 1118.3,623.6 1117.6,625.1 1116.9,626.6 1116.4,628.1 1115.9,629.6 1115.5,631.1 1115.2,632.6 1114.9,634.1 1114.6,635.6 1114.4,637.1 1114.2,638.6 1114.1,640.1 1114.0,641.6 1114.0,643.1 1113.9,644.6 1113.9,646.1 1113.8,647.6 1113.8,649.1 1113.8,650.6 1113.8,650.8 1113.8,650.8 1113.8,650.6 1113.8,649.1 1113.8,647.6 1113.7,646.1 1113.7,644.6 1113.6,643.1 1113.6,641.6 1113.5,640.1 1113.4,638.6 1113.2,637.1 1113.0,635.6 1112.7,634.1 1112.4,632.6 1112.1,631.1 1111.7,629.6 1111.2,628.1 1110.7,626.6 1110.0,625.1 1109.3,623.6 1108.5,622.1 1107.6,620.6 1106.6,619.1 1105.5,617.6 1104.3,616.1 1103.0,614.6 1101.7,613.1 1100.3,611.6 1098.8,610.1 1097.3,608.6 1095.7,607.1 1094.1,605.6 1092.5,604.1 1090.9,602.6 1089.3,601.1 1087.8,599.6 1086.3,598.1 1084.9,596.6 1083.6,595.1 1082.3,593.6 1081.1,592.1 1080.0,590.6 1079.0,589.1 1078.1,587.6 1077.2,586.1 1076.4,584.6 1075.6,583.1 1075.0,581.6 1074.5,580.1 1074.0,578.6 1073.6,577.1 1073.2,575.6 1072.9,574.1 1072.6,572.6 1072.3,571.1 1072.0,569.6 1071.8,568.1 1071.5,566.6 1071.3,565.1 1071.1,563.6 1070.9,562.1 1070.9,560.6 1071.0,559.1 1071.2,557.6 1071.5,556.1 1072.0,554.6 1072.5,553.1 1073.1,551.6 1073.7,550.1 1074.5,548.6 1075.3,547.1 1076.2,545.6 1077.1,544.1 1078.1,542.6 1079.1,541.1 1080.0,539.6 1081.0,538.1 1082.0,536.6 1083.0,535.1 1083.9,533.6 1084.9,532.1 1085.9,530.6 1086.9,529.1 1087.8,527.6 1088.8,526.1 1089.8,524.6 1090.7,523.1 1091.7,521.6 1092.6,520.1 1093.6,518.6 1094.5,517.1 1095.4,515.6 1096.3,514.1 1097.2,512.6 1098.1,511.1 1099.0,509.6 1099.9,508.1 1100.8,506.6 1101.7,505.1 1102.5,503.6 1103.3,502.1 1104.0,500.6 1104.8,499.1 1105.6,497.6 1106.3,496.1 1106.8,494.6 1107.1,493.1 1107.4,491.6 1107.6,490.1 1107.8,488.6 1108.0,487.1 1108.1,485.6 1108.3,484.1 1108.5,482.6 1108.6,481.1 1108.8,479.6 1109.0,478.1 1109.1,476.6 1109.3,475.1 1109.5,473.6 1109.6,472.1 1109.8,470.6 1110.0,469.1 1110.2,467.6 1110.4,466.1 1110.5,464.6 1110.7,463.1 1110.9,461.6 1111.1,460.1 1111.3,458.6 1111.5,457.1 1111.6,455.6 1111.6,454.1 1111.7,452.6 1111.7,451.1 1111.7,449.6 1111.8,448.1 1111.8,446.6 1111.8,445.1 1111.8,443.6 1111.8,442.1 1111.9,440.6 1111.9,439.1 1111.9,437.6 1111.9,436.1 1111.9,434.6 1111.9,433.1 1111.9,431.6 1111.9,430.1 1111.9,428.6 1111.9,427.1 1112.0,425.6 1112.1,424.1 1112.3,422.6 1112.4,421.1 1112.5,419.6 1112.6,418.1 1112.7,416.6 1112.8,415.1 1113.0,413.6 1113.2,412.1 1113.4,410.6 1113.5,409.1 1113.5,407.6 1113.5,406.1 1113.5,404.6 1113.5,403.1 1113.5,401.6 1113.5,400.1 1113.5,398.6 1113.4,397.1 1113.2,395.6 1113.1,394.1 1112.9,392.6 1112.7,391.1 1112.6,389.6 1112.4,388.1 1112.3,386.6 1112.1,385.1 1112.0,383.6 1111.9,382.1 1111.7,380.6 1111.5,379.1 1111.4,377.6 1111.2,376.1 1111.1,374.6 1111.1,373.1 1111.0,371.6 1111.0,370.1 1111.0,368.6 1111.0,367.1 1111.0,365.6 1111.1,364.1 1111.2,362.6 1111.3,361.1 1111.4,359.6 1111.5,358.1 1111.7,356.6 1111.8,355.1 1111.9,353.6 1112.0,352.1 1112.1,350.6 1112.1,349.1 1112.2,347.6 1112.2,346.1 1112.3,344.6 1112.3,343.1 1112.3,341.6 1112.4,340.1 1112.4,338.6 1112.5,337.1 1112.5,335.6 1112.6,334.1 1112.7,332.6 1112.7,331.1 1112.8,329.6 1112.9,328.1 1113.0,326.6 1113.1,325.1 1113.2,323.6 1113.3,322.1 1113.4,320.6 1113.5,319.1 1113.6,317.6 1113.6,316.1 1113.7,314.6 1113.7,313.1 1113.7,311.6 1113.7,310.1 1113.8,308.6 1113.8,307.1 1113.8,305.6 1113.8,304.1 1113.8,302.6Z" fill="#fff" stroke="#ea0000" stroke-width="1.9" stroke-linejoin="round"/>
<g stroke="#43b341" fill="none">
<line x1="167.0" y1="464.7" x2="167.0" y2="526.8" stroke-width="2.0"/>
<line x1="167.0" y1="574.6" x2="167.0" y2="601.7" stroke-width="2.0"/>
<rect x="156.1" y="526.8" width="21.8" height="47.8" stroke-width="1.8"/>
<line x1="156.1" y1="556.3" x2="177.9" y2="556.3" stroke-width="3.4"/>
</g>
<g fill="#43b341">
<circle cx="167.0" cy="247.5" r="3.7"/>
<circle cx="167.0" cy="251.5" r="3.7"/>
<circle cx="167.0" cy="255.5" r="3.7"/>
<circle cx="167.0" cy="283.6" r="3.7"/>
<circle cx="167.0" cy="312.5" r="3.7"/>
<circle cx="167.0" cy="373.0" r="3.7"/>
<circle cx="167.0" cy="397.7" r="3.7"/>
<circle cx="167.0" cy="402.0" r="3.7"/>
<circle cx="167.0" cy="406.5" r="3.7"/>
<circle cx="167.0" cy="410.8" r="3.7"/>
<circle cx="167.0" cy="442.0" r="3.7"/>
</g>
<g stroke="#ea0000" fill="none">
<line x1="253.0" y1="472.5" x2="253.0" y2="531.3" stroke-width="2.0"/>
<line x1="253.0" y1="573.3" x2="253.0" y2="607.5" stroke-width="2.0"/>
<rect x="242.1" y="531.3" width="21.8" height="42.0" stroke-width="1.8"/>
<line x1="242.1" y1="556.8" x2="263.9" y2="556.8" stroke-width="3.4"/>
</g>
<g fill="#ea0000">
<circle cx="253.0" cy="254.5" r="3.7"/>
<circle cx="253.0" cy="387.6" r="3.7"/>
<circle cx="253.0" cy="413.7" r="3.7"/>
<circle cx="253.0" cy="417.0" r="3.7"/>
<circle cx="253.0" cy="420.5" r="3.7"/>
<circle cx="253.0" cy="424.0" r="3.7"/>
<circle cx="253.0" cy="447.0" r="3.7"/>
<circle cx="253.0" cy="467.0" r="3.7"/>
</g>
<g stroke="#43b341" fill="none">
<line x1="382.2" y1="433.0" x2="382.2" y2="516.3" stroke-width="2.0"/>
<line x1="382.2" y1="576.3" x2="382.2" y2="602.5" stroke-width="2.0"/>
<rect x="371.3" y="516.3" width="21.8" height="60.0" stroke-width="1.8"/>
<line x1="371.3" y1="556.1" x2="393.1" y2="556.1" stroke-width="3.4"/>
</g>
<g fill="#43b341">
<circle cx="382.2" cy="139.4" r="3.7"/>
<circle cx="382.2" cy="233.1" r="3.7"/>
<circle cx="382.2" cy="248.0" r="3.7"/>
<circle cx="382.2" cy="252.0" r="3.7"/>
<circle cx="382.2" cy="280.2" r="3.7"/>
<circle cx="382.2" cy="322.5" r="3.7"/>
<circle cx="382.2" cy="387.1" r="3.7"/>
<circle cx="382.2" cy="419.6" r="3.7"/>
<circle cx="382.2" cy="422.9" r="3.7"/>
</g>
<g stroke="#ea0000" fill="none">
<line x1="468.2" y1="477.5" x2="468.2" y2="530.0" stroke-width="2.0"/>
<line x1="468.2" y1="579.5" x2="468.2" y2="610.0" stroke-width="2.0"/>
<rect x="457.3" y="530.0" width="21.8" height="49.5" stroke-width="1.8"/>
<line x1="457.3" y1="558.4" x2="479.1" y2="558.4" stroke-width="3.4"/>
</g>
<g fill="#ea0000">
<circle cx="468.2" cy="347.8" r="3.7"/>
<circle cx="468.2" cy="372.0" r="3.7"/>
<circle cx="468.2" cy="377.0" r="3.7"/>
<circle cx="468.2" cy="407.4" r="3.7"/>
<circle cx="468.2" cy="414.5" r="3.7"/>
<circle cx="468.2" cy="440.4" r="3.7"/>
<circle cx="468.2" cy="450.3" r="3.7"/>
</g>
<g stroke="#43b341" fill="none">
<line x1="597.4" y1="418.3" x2="597.4" y2="509.4" stroke-width="2.0"/>
<line x1="597.4" y1="574.6" x2="597.4" y2="603.0" stroke-width="2.0"/>
<rect x="586.5" y="509.4" width="21.8" height="65.2" stroke-width="1.8"/>
<line x1="586.5" y1="552.5" x2="608.3" y2="552.5" stroke-width="3.4"/>
</g>
<g fill="#43b341">
<circle cx="597.4" cy="134.9" r="3.7"/>
<circle cx="597.4" cy="229.4" r="3.7"/>
<circle cx="597.4" cy="246.8" r="3.7"/>
<circle cx="597.4" cy="255.4" r="3.7"/>
<circle cx="597.4" cy="273.4" r="3.7"/>
<circle cx="597.4" cy="322.2" r="3.7"/>
<circle cx="597.4" cy="387.6" r="3.7"/>
</g>
<g stroke="#ea0000" fill="none">
<line x1="683.4" y1="469.0" x2="683.4" y2="533.5" stroke-width="2.0"/>
<line x1="683.4" y1="583.0" x2="683.4" y2="610.0" stroke-width="2.0"/>
<rect x="672.5" y="533.5" width="21.8" height="49.5" stroke-width="1.8"/>
<line x1="672.5" y1="558.8" x2="694.3" y2="558.8" stroke-width="3.4"/>
</g>
<g fill="#ea0000">
<circle cx="683.4" cy="346.2" r="3.7"/>
<circle cx="683.4" cy="374.5" r="3.7"/>
<circle cx="683.4" cy="379.5" r="3.7"/>
<circle cx="683.4" cy="405.0" r="3.7"/>
<circle cx="683.4" cy="415.6" r="3.7"/>
<circle cx="683.4" cy="457.0" r="3.7"/>
</g>
<g stroke="#43b341" fill="none">
<line x1="812.4" y1="417.6" x2="812.4" y2="512.4" stroke-width="2.0"/>
<line x1="812.4" y1="577.3" x2="812.4" y2="603.8" stroke-width="2.0"/>
<rect x="801.5" y="512.4" width="21.8" height="64.9" stroke-width="1.8"/>
<line x1="801.5" y1="554.0" x2="823.3" y2="554.0" stroke-width="3.4"/>
</g>
<g fill="#43b341">
<circle cx="812.4" cy="143.0" r="3.7"/>
<circle cx="812.4" cy="204.0" r="3.7"/>
<circle cx="812.4" cy="220.0" r="3.7"/>
<circle cx="812.4" cy="258.7" r="3.7"/>
<circle cx="812.4" cy="288.7" r="3.7"/>
<circle cx="812.4" cy="316.4" r="3.7"/>
<circle cx="812.4" cy="386.0" r="3.7"/>
<circle cx="812.4" cy="412.3" r="3.7"/>
</g>
<g stroke="#ea0000" fill="none">
<line x1="898.8" y1="477.5" x2="898.8" y2="532.7" stroke-width="2.0"/>
<line x1="898.8" y1="581.8" x2="898.8" y2="610.3" stroke-width="2.0"/>
<rect x="887.9" y="532.7" width="21.8" height="49.1" stroke-width="1.8"/>
<line x1="887.9" y1="558.3" x2="909.7" y2="558.3" stroke-width="3.4"/>
</g>
<g fill="#ea0000">
<circle cx="898.8" cy="342.5" r="3.7"/>
<circle cx="898.8" cy="367.0" r="3.7"/>
<circle cx="898.8" cy="371.0" r="3.7"/>
<circle cx="898.8" cy="381.0" r="3.7"/>
<circle cx="898.8" cy="421.5" r="3.7"/>
<circle cx="898.8" cy="431.0" r="3.7"/>
<circle cx="898.8" cy="447.6" r="3.7"/>
</g>
<g stroke="#43b341" fill="none">
<line x1="1027.7" y1="413.0" x2="1027.7" y2="509.0" stroke-width="2.0"/>
<line x1="1027.7" y1="575.1" x2="1027.7" y2="604.2" stroke-width="2.0"/>
<rect x="1016.8" y="509.0" width="21.8" height="66.1" stroke-width="1.8"/>
<line x1="1016.8" y1="553.2" x2="1038.6" y2="553.2" stroke-width="3.4"/>
</g>
<g fill="#43b341">
<circle cx="1027.7" cy="146.2" r="3.7"/>
<circle cx="1027.7" cy="206.2" r="3.7"/>
<circle cx="1027.7" cy="221.3" r="3.7"/>
<circle cx="1027.7" cy="259.0" r="3.7"/>
<circle cx="1027.7" cy="290.0" r="3.7"/>
<circle cx="1027.7" cy="316.7" r="3.7"/>
<circle cx="1027.7" cy="385.4" r="3.7"/>
</g>
<g stroke="#ea0000" fill="none">
<line x1="1113.8" y1="462.7" x2="1113.8" y2="532.4" stroke-width="2.0"/>
<line x1="1113.8" y1="582.6" x2="1113.8" y2="610.3" stroke-width="2.0"/>
<rect x="1102.9" y="532.4" width="21.8" height="50.2" stroke-width="1.8"/>
<line x1="1102.9" y1="558.2" x2="1124.7" y2="558.2" stroke-width="3.4"/>
</g>
<g fill="#ea0000">
<circle cx="1113.8" cy="343.0" r="3.7"/>
<circle cx="1113.8" cy="364.9" r="3.7"/>
<circle cx="1113.8" cy="369.0" r="3.7"/>
<circle cx="1113.8" cy="381.5" r="3.7"/>
<circle cx="1113.8" cy="420.9" r="3.7"/>
<circle cx="1113.8" cy="435.9" r="3.7"/>
</g>
<line x1="167.0" y1="518.9" x2="167.0" y2="546.5" stroke="#43b341" stroke-width="1.8"/>
<circle cx="167.0" cy="532.7" r="5.35" fill="#43b341"/>
<line x1="253.0" y1="532.2" x2="253.0" y2="552.4" stroke="#ea0000" stroke-width="1.8"/>
<circle cx="253.0" cy="542.3" r="5.35" fill="#ea0000"/>
<line x1="382.2" y1="511.9" x2="382.2" y2="543.7" stroke="#43b341" stroke-width="1.8"/>
<circle cx="382.2" cy="527.8" r="5.35" fill="#43b341"/>
<line x1="468.2" y1="538.3" x2="468.2" y2="556.7" stroke="#ea0000" stroke-width="1.8"/>
<circle cx="468.2" cy="547.2" r="5.35" fill="#ea0000"/>
<line x1="597.4" y1="509.3" x2="597.4" y2="541.7" stroke="#43b341" stroke-width="1.8"/>
<circle cx="597.4" cy="525.5" r="5.35" fill="#43b341"/>
<line x1="683.4" y1="540.0" x2="683.4" y2="559.0" stroke="#ea0000" stroke-width="1.8"/>
<circle cx="683.4" cy="549.5" r="5.35" fill="#ea0000"/>
<line x1="812.4" y1="510.7" x2="812.4" y2="543.3" stroke="#43b341" stroke-width="1.8"/>
<circle cx="812.4" cy="527.0" r="5.35" fill="#43b341"/>
<line x1="898.8" y1="538.3" x2="898.8" y2="556.7" stroke="#ea0000" stroke-width="1.8"/>
<circle cx="898.8" cy="547.5" r="5.35" fill="#ea0000"/>
<line x1="1027.7" y1="509.9" x2="1027.7" y2="542.5" stroke="#43b341" stroke-width="1.8"/>
<circle cx="1027.7" cy="526.2" r="5.35" fill="#43b341"/>
<line x1="1113.8" y1="539.2" x2="1113.8" y2="558.2" stroke="#ea0000" stroke-width="1.8"/>
<circle cx="1113.8" cy="548.7" r="5.35" fill="#ea0000"/>
<g stroke="#000" stroke-width="2" fill="none" stroke-linecap="butt">
<path d="M81,54 V686 H1200"/>
<line x1="76.5" y1="224.2" x2="81" y2="224.2"/>
<line x1="76.5" y1="417.2" x2="81" y2="417.2"/>
<line x1="76.5" y1="610.2" x2="81" y2="610.2"/>
<line x1="210" y1="686" x2="210" y2="691"/>
<line x1="425" y1="686" x2="425" y2="691"/>
<line x1="640" y1="686" x2="640" y2="691"/>
<line x1="855" y1="686" x2="855" y2="691"/>
<line x1="1070" y1="686" x2="1070" y2="691"/>
</g>
<text transform="translate(73,230.80) scale(1,1.05)" font-size="18.4" text-anchor="end" text-rendering="geometricPrecision">8e+05</text>
<text transform="translate(73,423.80) scale(1,1.05)" font-size="18.4" text-anchor="end" text-rendering="geometricPrecision">4e+05</text>
<text transform="translate(73,616.80) scale(1,1.05)" font-size="18.4" text-anchor="end" text-rendering="geometricPrecision">0e+00</text>
<text x="210" y="707" font-size="18.4" text-anchor="middle">SMA1−50</text>
<text x="425" y="707" font-size="18.4" text-anchor="middle">SMA1−150</text>
<text x="640" y="707" font-size="18.4" text-anchor="middle">SMA5−150</text>
<text x="855" y="707" font-size="18.4" text-anchor="middle">SMA1−200</text>
<text x="1070" y="707" font-size="18.4" text-anchor="middle">SMA2−200</text>
<rect x="210.32" y="704.8" width="3.3" height="2.8" fill="#fff"/>
<rect x="215.97" y="704.8" width="3.3" height="2.8" fill="#fff"/>
<rect x="420.20" y="704.8" width="3.3" height="2.8" fill="#fff"/>
<rect x="425.85" y="704.8" width="3.3" height="2.8" fill="#fff"/>
<rect x="441.18" y="704.8" width="3.3" height="2.8" fill="#fff"/>
<rect x="446.83" y="704.8" width="3.3" height="2.8" fill="#fff"/>
<rect x="656.18" y="704.8" width="3.3" height="2.8" fill="#fff"/>
<rect x="661.83" y="704.8" width="3.3" height="2.8" fill="#fff"/>
<rect x="850.20" y="704.8" width="3.3" height="2.8" fill="#fff"/>
<rect x="855.85" y="704.8" width="3.3" height="2.8" fill="#fff"/>
<rect x="220.40" y="701.0" width="8.8" height="0.6" fill="#000" fill-opacity="0.85"/>
<rect x="430.28" y="701.0" width="8.8" height="0.6" fill="#000" fill-opacity="0.85"/>
<rect x="645.28" y="701.0" width="8.8" height="0.6" fill="#000" fill-opacity="0.85"/>
<rect x="860.28" y="701.0" width="8.8" height="0.6" fill="#000" fill-opacity="0.85"/>
<rect x="1075.28" y="701.0" width="8.8" height="0.6" fill="#000" fill-opacity="0.85"/>
<text x="640.4" y="729" font-size="18.2" text-anchor="middle">Technical Indicator</text>
<text transform="translate(13.2,369.7) rotate(-90)" font-size="18.2" text-anchor="middle">Number of gains and losses realised</text>
<g stroke="#43b341" fill="none" stroke-width="1.7">
<rect x="586.0" y="1.3" width="23.9" height="24.1"/>
<rect x="588.1" y="7" width="19.5" height="12.9"/>
<line x1="598.0" y1="1.3" x2="598.0" y2="25.4"/>
<line x1="588.1" y1="13.4" x2="607.6" y2="13.4"/>
</g>
<circle cx="598.0" cy="13.35" r="5.1" fill="#43b341"/>
<text transform="translate(620.2,18.9) scale(1,1.04)" font-size="15.4" text-rendering="geometricPrecision">GR</text>
<g stroke="#ea0000" fill="none" stroke-width="1.7">
<rect x="652.3" y="1.3" width="23.9" height="24.1"/>
<rect x="654.4" y="7" width="19.5" height="12.9"/>
<line x1="664.3" y1="1.3" x2="664.3" y2="25.4"/>
<line x1="654.4" y1="13.4" x2="673.9" y2="13.4"/>
</g>
<circle cx="664.3" cy="13.35" r="5.1" fill="#ea0000"/>
<text transform="translate(686.5,18.9) scale(1,1.04)" font-size="15.4" text-rendering="geometricPrecision">LR</text>
</svg></body></html>
